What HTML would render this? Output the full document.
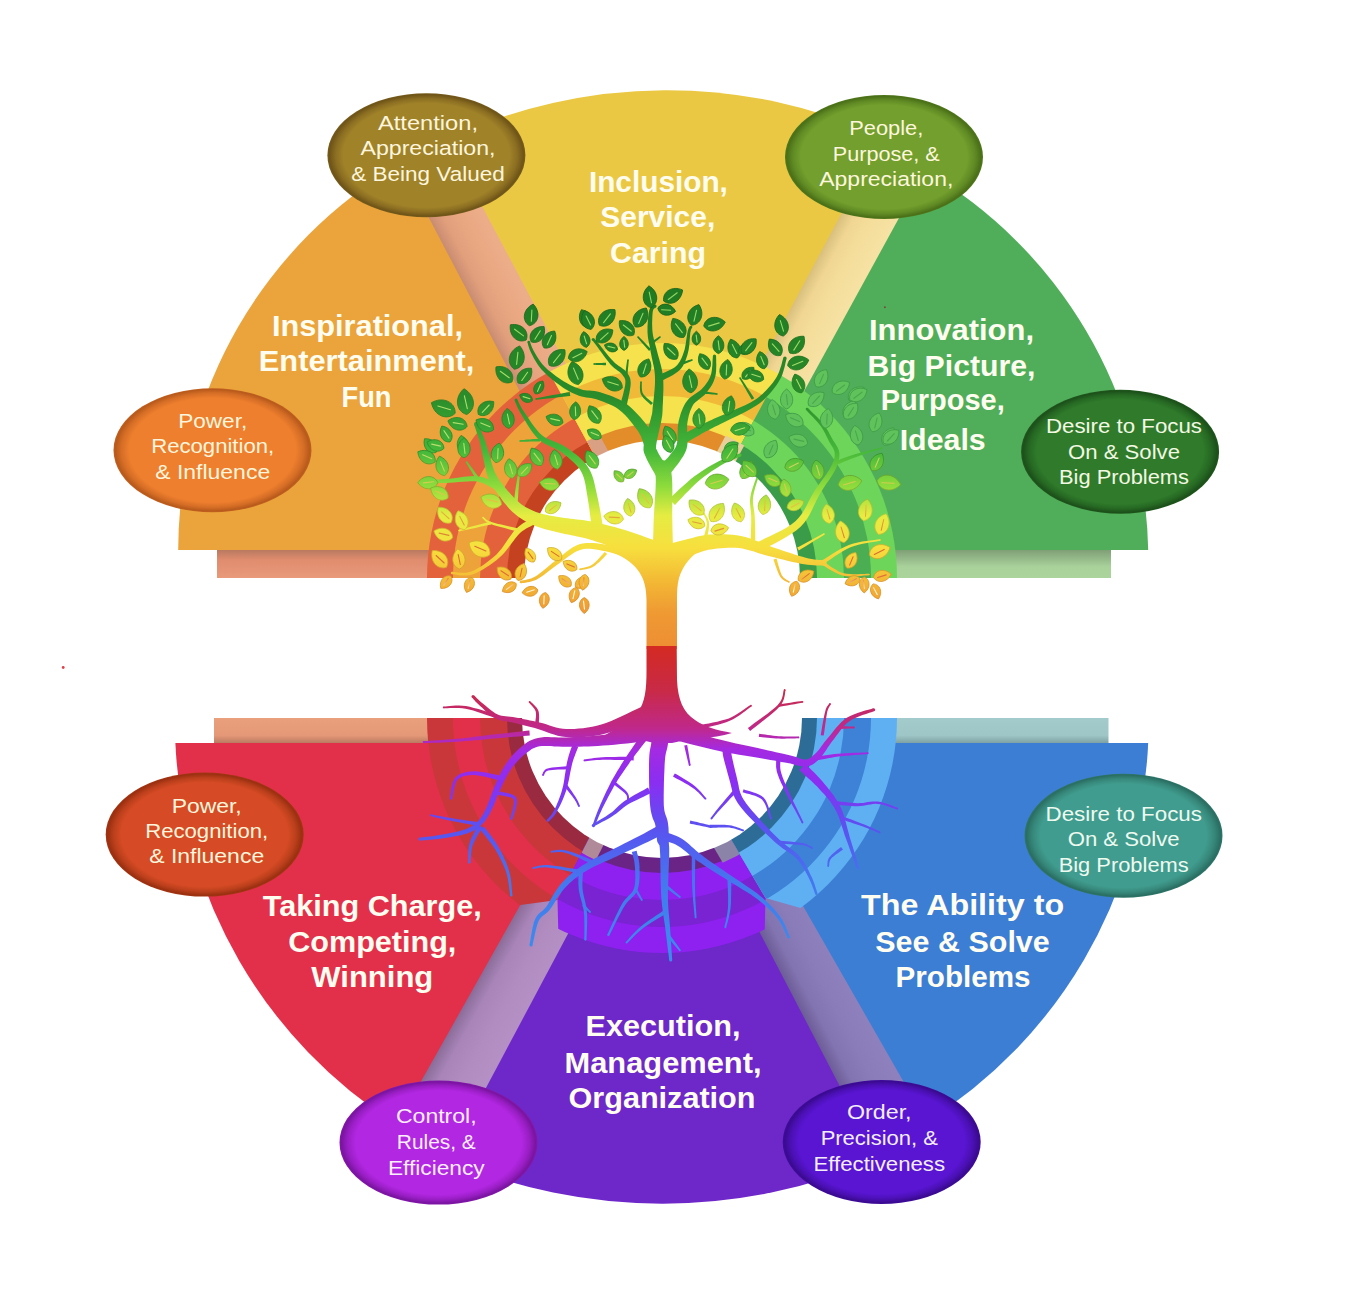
<!DOCTYPE html>
<html><head><meta charset="utf-8"><style>
html,body{margin:0;padding:0;background:#fff;width:1364px;height:1314px;overflow:hidden}
svg{display:block;font-family:"Liberation Sans",sans-serif}
</style></head><body>
<svg width="1364" height="1314" viewBox="0 0 1364 1314">
<defs>
<radialGradient id="eBrown" cx="50%" cy="50%" r="50%"><stop offset="0" stop-color="#a08229"/><stop offset="0.84" stop-color="#a08229"/><stop offset="0.92" stop-color="#8a6d21"/><stop offset="0.98" stop-color="#6e5418"/><stop offset="1" stop-color="#785d1b"/></radialGradient>
<radialGradient id="eGreen" cx="50%" cy="50%" r="50%"><stop offset="0" stop-color="#729f2d"/><stop offset="0.84" stop-color="#729f2d"/><stop offset="0.92" stop-color="#608a24"/><stop offset="0.98" stop-color="#4a7018"/><stop offset="1" stop-color="#52791c"/></radialGradient>
<radialGradient id="eOrange" cx="50%" cy="50%" r="50%"><stop offset="0" stop-color="#ee7f2e"/><stop offset="0.84" stop-color="#ee7f2e"/><stop offset="0.92" stop-color="#d66e26"/><stop offset="0.98" stop-color="#b85a1c"/><stop offset="1" stop-color="#c36120"/></radialGradient>
<radialGradient id="eDGreen" cx="50%" cy="50%" r="50%"><stop offset="0" stop-color="#2f7b2b"/><stop offset="0.84" stop-color="#2f7b2b"/><stop offset="0.92" stop-color="#266823"/><stop offset="0.98" stop-color="#1c501a"/><stop offset="1" stop-color="#20591d"/></radialGradient>
<radialGradient id="eRed" cx="50%" cy="50%" r="50%"><stop offset="0" stop-color="#d64b25"/><stop offset="0.84" stop-color="#d64b25"/><stop offset="0.92" stop-color="#bb3f1c"/><stop offset="0.98" stop-color="#9a3010"/><stop offset="1" stop-color="#a63514"/></radialGradient>
<radialGradient id="eTeal" cx="50%" cy="50%" r="50%"><stop offset="0" stop-color="#409c8e"/><stop offset="0.84" stop-color="#409c8e"/><stop offset="0.92" stop-color="#36877a"/><stop offset="0.98" stop-color="#2a6e62"/><stop offset="1" stop-color="#2e776b"/></radialGradient>
<radialGradient id="eMag" cx="50%" cy="50%" r="50%"><stop offset="0" stop-color="#b227e2"/><stop offset="0.84" stop-color="#b227e2"/><stop offset="0.92" stop-color="#991ec4"/><stop offset="0.98" stop-color="#7a14a0"/><stop offset="1" stop-color="#8518ad"/></radialGradient>
<radialGradient id="ePurp" cx="50%" cy="50%" r="50%"><stop offset="0" stop-color="#5915d2"/><stop offset="0.84" stop-color="#5915d2"/><stop offset="0.92" stop-color="#4b10b4"/><stop offset="0.98" stop-color="#3a0a90"/><stop offset="1" stop-color="#400c9d"/></radialGradient>
<linearGradient id="lgStrip" x1="0" y1="0" x2="0" y2="1"><stop offset="0" stop-color="#7f9f76"/><stop offset="0.6" stop-color="#a9d29b"/><stop offset="1" stop-color="#aad49c"/></linearGradient>
<linearGradient id="bgStrip" x1="0" y1="0" x2="0" y2="1"><stop offset="0" stop-color="#a3cbcb"/><stop offset="0.7" stop-color="#9fc6c6"/><stop offset="1" stop-color="#7ea2a4"/></linearGradient>
<linearGradient id="saStrip" x1="0" y1="0" x2="0" y2="1"><stop offset="0" stop-color="#b87a60"/><stop offset="0.35" stop-color="#e08c6e"/><stop offset="1" stop-color="#e89a7a"/></linearGradient>
<linearGradient id="sa2Strip" x1="0" y1="0" x2="0" y2="1"><stop offset="0" stop-color="#e9a07c"/><stop offset="0.7" stop-color="#e59877"/><stop offset="1" stop-color="#b97a62"/></linearGradient>
<clipPath id="topHalf"><rect x="0" y="0" width="1364" height="578"/></clipPath>
<clipPath id="botHalf"><rect x="0" y="718" width="1364" height="600"/></clipPath>
<clipPath id="wO"><polygon points="0.0,0.0 346.4,0.0 673.4,600.0 0.0,600.0" fill="#000" /></clipPath>
<clipPath id="wY"><polygon points="346.4,0.0 979.6,0.0 665.3,585.2" fill="#000" /></clipPath>
<clipPath id="wG"><polygon points="979.6,0.0 1364.0,0.0 1364.0,600.0 657.4,600.0" fill="#000" /></clipPath>
<clipPath id="wR"><polygon points="0.0,700.0 659.5,700.0 557.5,900.0 520.3,905.0 297.9,1300.0 0.0,1300.0" fill="#000" /></clipPath>
<clipPath id="wP"><polygon points="659.5,700.0 649.1,700.0 765.5,898.0 763.0,1000.0 560.0,1000.0 557.5,900.0" fill="#000" /></clipPath>
<clipPath id="wB"><polygon points="649.1,700.0 1364.0,700.0 1364.0,1300.0 1028.4,1300.0 804.9,909.3 765.5,898.0" fill="#000" /></clipPath>
<linearGradient id="gSalmon" gradientUnits="userSpaceOnUse" x1="472.0" y1="300.0" x2="518.8" y2="275.5"><stop offset="0" stop-color="#c98c72"/><stop offset="0.25" stop-color="#e29f7c"/><stop offset="0.6" stop-color="#eaa882"/><stop offset="1" stop-color="#ecae8a"/></linearGradient>
<linearGradient id="gPale" gradientUnits="userSpaceOnUse" x1="795.1" y1="300.0" x2="840.7" y2="324.4"><stop offset="0" stop-color="#d9bf7e"/><stop offset="0.25" stop-color="#f0d692"/><stop offset="0.6" stop-color="#f5de9c"/><stop offset="1" stop-color="#f6e2a4"/></linearGradient>
<linearGradient id="gMauve1" gradientUnits="userSpaceOnUse" x1="466.8" y1="1000.0" x2="517.6" y2="1028.6"><stop offset="0" stop-color="#8a6c98"/><stop offset="0.25" stop-color="#a884b8"/><stop offset="0.6" stop-color="#b08cc0"/><stop offset="1" stop-color="#b490c4"/></linearGradient>
<linearGradient id="gMauve2" gradientUnits="userSpaceOnUse" x1="794.9" y1="1000.0" x2="842.6" y2="975.2"><stop offset="0" stop-color="#6c5c98"/><stop offset="0.25" stop-color="#8274b0"/><stop offset="0.6" stop-color="#8a7cb8"/><stop offset="1" stop-color="#8e80bc"/></linearGradient>
</defs>
<rect x="0" y="0" width="1364" height="1314" fill="#fff"/>
<rect x="217" y="550" width="420" height="28" fill="url(#saStrip)"/>
<rect x="690" y="550" width="421" height="28" fill="url(#lgStrip)"/>
<polygon points="381.4,130.0 443.2,130.0 649.9,520.0 585.8,520.0" fill="url(#gSalmon)" />
<polygon points="884.6,130.0 948.8,130.0 735.0,520.0 675.9,520.0" fill="url(#gPale)" />
<path d="M178.2,550 A447.5,447.5 0 0 1 400.6,163.8 L603.0,550 Z" fill="#eaa43b"/>
<path d="M662.9,547.3 L446.7,139.4 A517.3,517.3 0 0 1 882.3,137.1 Z" fill="#ebc843"/>
<path d="M717.1,550 L925.0,170.5 A449.4,449.4 0 0 1 1148.2,550 Z" fill="#50ae5a"/>
<g clip-path="url(#topHalf)"><g clip-path="url(#wO)">
<circle cx="662" cy="578" r="235" fill="#e3623c"/>
<circle cx="662" cy="578" r="209" fill="#eea23a"/>
<circle cx="662" cy="578" r="182" fill="#e3623c"/>
<circle cx="662" cy="578" r="155" fill="#c4421f"/>
</g></g>
<g clip-path="url(#topHalf)"><g clip-path="url(#wY)">
<circle cx="662" cy="578" r="235" fill="#f6e24c"/>
<circle cx="662" cy="578" r="209" fill="#f0ba38"/>
<circle cx="662" cy="578" r="182" fill="#f6e24c"/>
<circle cx="662" cy="578" r="155" fill="#e28c2a"/>
</g></g>
<g clip-path="url(#topHalf)"><g clip-path="url(#wG)">
<circle cx="662" cy="578" r="235" fill="#6dd55a"/>
<circle cx="662" cy="578" r="209" fill="#4cae52"/>
<circle cx="662" cy="578" r="182" fill="#6dd55a"/>
<circle cx="662" cy="578" r="155" fill="#3a9c48"/>
</g></g>
<clipPath id="bd52"><polygon points="553.5,380.0 569.5,380.0 624.0,480.0 608.0,480.0" fill="#000" /></clipPath>
<g clip-path="url(#topHalf)"><g clip-path="url(#bd52)"><circle cx="662" cy="578" r="156" fill="#d9a084"/></g></g>
<clipPath id="bd54"><polygon points="755.5,380.0 779.5,380.0 720.4,490.0 696.4,490.0" fill="#000" /></clipPath>
<g clip-path="url(#topHalf)"><g clip-path="url(#bd54)"><circle cx="662" cy="578" r="156" fill="#e6cf98"/></g></g>
<g clip-path="url(#topHalf)"><circle cx="662" cy="578" r="138" fill="#fff"/></g>
<rect x="214" y="718" width="460" height="25" fill="url(#sa2Strip)"/>
<rect x="660" y="718" width="448.5" height="25" fill="url(#bgStrip)"/>
<polygon points="549.8,850.0 614.1,850.0 454.5,1150.0 380.9,1150.0" fill="url(#gMauve1)" />
<polygon points="715.2,850.0 772.5,850.0 944.1,1150.0 871.5,1150.0" fill="url(#gMauve2)" />
<path d="M175.4,743 L611.5,743 L396.7,1124.6 A477.1,477.1 0 0 1 175.4,743 Z" fill="#e2304a"/>
<path d="M665.2,751.1 L447.9,1159.5 A542.5,542.5 0 0 0 877.7,1159.0 Z" fill="#6e27c9"/>
<path d="M709.8,743 L1148.2,743 A472.4,472.4 0 0 1 926.5,1121.8 Z" fill="#3c7ed4"/>
<g clip-path="url(#botHalf)"><g clip-path="url(#wR)">
<circle cx="662" cy="718" r="235" fill="#c9373a"/>
<circle cx="662" cy="718" r="209" fill="#e2304a"/>
<circle cx="662" cy="718" r="182" fill="#c9373a"/>
<circle cx="662" cy="718" r="155" fill="#9a2a40"/>
</g></g>
<g clip-path="url(#botHalf)"><g clip-path="url(#wP)">
<circle cx="662" cy="718" r="235" fill="#8e21ef"/>
<circle cx="662" cy="718" r="209" fill="#7a23d2"/>
<circle cx="662" cy="718" r="182" fill="#8e21ef"/>
<circle cx="662" cy="718" r="155" fill="#6a2485"/>
</g></g>
<g clip-path="url(#botHalf)"><g clip-path="url(#wB)">
<circle cx="662" cy="718" r="235" fill="#5fb0f3"/>
<circle cx="662" cy="718" r="209" fill="#3d82d6"/>
<circle cx="662" cy="718" r="182" fill="#5fb0f3"/>
<circle cx="662" cy="718" r="155" fill="#2e6c98"/>
</g></g>
<clipPath id="bd82"><polygon points="598.3,820.0 616.3,820.0 590.8,870.0 572.8,870.0" fill="#000" /></clipPath>
<g clip-path="url(#botHalf)"><g clip-path="url(#bd82)"><circle cx="662" cy="718" r="157" fill="#b08a98"/></g></g>
<clipPath id="bd84"><polygon points="697.7,820.0 719.7,820.0 754.9,880.0 732.9,880.0" fill="#000" /></clipPath>
<g clip-path="url(#botHalf)"><g clip-path="url(#bd84)"><circle cx="662" cy="718" r="157" fill="#8c84a8"/></g></g>
<g clip-path="url(#botHalf)"><circle cx="662" cy="718" r="140" fill="#fff"/></g>
<defs>
<linearGradient id="treeG" gradientUnits="userSpaceOnUse" x1="0" y1="290" x2="0" y2="648">
<stop offset="0" stop-color="#1f7a22"/><stop offset="0.3" stop-color="#2a8c2a"/><stop offset="0.45" stop-color="#45b83a"/>
<stop offset="0.55" stop-color="#8fdc3c"/><stop offset="0.63" stop-color="#e6ec42"/><stop offset="0.72" stop-color="#f7df3e"/>
<stop offset="0.82" stop-color="#f3b634"/><stop offset="0.9" stop-color="#ef9a33"/><stop offset="1" stop-color="#ee8e34"/>
</linearGradient>
<linearGradient id="ribG" gradientUnits="userSpaceOnUse" x1="0" y1="290" x2="0" y2="648">
<stop offset="0" stop-color="#8fd460"/><stop offset="0.42" stop-color="#b8e070"/><stop offset="0.6" stop-color="#e8c040"/><stop offset="0.72" stop-color="#d86a30"/><stop offset="0.8" stop-color="#e07038"/><stop offset="0.84" stop-color="#fff4e0"/><stop offset="1" stop-color="#ffffff"/>
</linearGradient>
<linearGradient id="edgeG" gradientUnits="userSpaceOnUse" x1="0" y1="290" x2="0" y2="648">
<stop offset="0" stop-color="#145c16"/><stop offset="0.45" stop-color="#2a8a28"/><stop offset="0.63" stop-color="#c8c830"/><stop offset="0.82" stop-color="#d89028"/><stop offset="1" stop-color="#d07a28"/>
</linearGradient>
<linearGradient id="rootG" gradientUnits="userSpaceOnUse" x1="0" y1="646" x2="0" y2="950">
<stop offset="0" stop-color="#d42a22"/><stop offset="0.15" stop-color="#c82a48"/><stop offset="0.27" stop-color="#c0288a"/>
<stop offset="0.34" stop-color="#a42ae2"/><stop offset="0.45" stop-color="#8a2ef2"/><stop offset="0.6" stop-color="#5a52f0"/>
<stop offset="0.78" stop-color="#4478ee"/><stop offset="1" stop-color="#3a8cec"/>
</linearGradient>
</defs><path d="M646.5,649 L646.5,600 C646.5,578 638,563 614,553 L612,536 C636,541 650,545 655,548 L654,530 L672,530 L672,547 C682,544 692,541 700,540 L702,550 C692,554 683,565 679,578 C677,586 677,592 677,600 L677,649 Z" fill="url(#treeG)"/>
<path d="M673.4,560.0 L673.3,556.8 L673.2,552.7 L673.0,547.7 L672.8,542.2 L672.7,536.4 L672.5,530.6 L672.4,525.1 L672.3,520.1 L672.2,515.5 L672.2,510.8 L672.3,506.0 L672.3,501.4 L672.3,496.9 L672.4,492.6 L672.3,488.6 L672.3,485.0 L672.2,481.7 L672.0,478.7 L671.8,476.0 L671.5,473.7 L671.3,471.6 L671.1,469.9 L670.9,468.5 L670.8,467.4 L655.2,468.6 L655.3,469.9 L655.4,471.4 L655.5,473.1 L655.6,474.9 L655.7,477.1 L655.8,479.4 L655.8,482.1 L655.7,485.0 L655.6,488.3 L655.4,492.1 L655.1,496.3 L654.8,500.7 L654.5,505.4 L654.2,510.2 L654.0,515.0 L653.7,519.9 L653.5,525.0 L653.4,530.6 L653.2,536.4 L653.0,542.2 L652.9,547.7 L652.8,552.7 L652.7,556.9 L652.6,560.0Z" fill="url(#treeG)"/><circle cx="663.0" cy="468.0" r="7.8" fill="url(#treeG)"/>
<path d="M668.1,468.3 L667.2,466.9 L666.0,465.1 L664.5,462.9 L663.0,460.6 L661.4,458.2 L660.0,455.9 L658.8,453.9 L657.9,452.2 L657.2,450.8 L656.6,449.6 L656.2,449.0 L656.1,448.8 L656.1,448.8 L656.0,448.4 L656.0,447.4 L656.1,445.8 L656.4,443.6 L656.9,440.8 L657.6,437.5 L658.4,434.0 L659.2,430.5 L660.0,427.0 L660.7,423.9 L661.2,421.2 L661.6,419.2 L661.8,417.9 L662.0,416.8 L662.2,415.8 L662.3,414.6 L662.4,413.3 L662.5,411.7 L662.6,409.4 L662.7,406.3 L662.9,402.7 L663.1,398.6 L663.2,394.2 L663.4,389.7 L663.4,385.2 L663.3,380.8 L663.0,376.7 L662.5,372.9 L661.8,369.3 L661.0,365.7 L660.1,362.4 L659.2,359.1 L658.3,356.1 L657.5,353.1 L656.8,350.3 L656.1,347.6 L655.4,345.1 L654.8,342.8 L654.2,340.6 L653.7,338.4 L653.2,336.3 L652.8,334.1 L652.5,331.8 L652.3,329.3 L652.2,326.5 L652.1,323.6 L652.2,320.7 L652.3,317.9 L652.4,315.4 L652.6,313.1 L652.8,311.4 L653.1,310.2 L653.4,309.4 L653.7,308.9 L654.1,308.5 L654.5,308.3 L655.0,308.0 L655.6,307.6 L656.0,307.2 L654.0,304.8 L653.8,304.9 L653.4,305.1 L652.8,305.4 L652.0,305.8 L651.2,306.6 L650.4,307.6 L649.7,309.0 L649.2,310.6 L648.8,312.6 L648.5,315.0 L648.1,317.6 L647.9,320.5 L647.7,323.5 L647.5,326.5 L647.5,329.4 L647.5,332.2 L647.7,334.7 L647.9,337.2 L648.3,339.5 L648.7,341.8 L649.2,344.1 L649.7,346.5 L650.2,349.0 L650.6,351.7 L651.2,354.6 L651.8,357.7 L652.5,360.8 L653.2,364.0 L653.9,367.3 L654.4,370.6 L654.8,373.9 L655.0,377.3 L655.0,380.9 L654.9,385.0 L654.6,389.3 L654.2,393.7 L653.8,397.9 L653.3,402.0 L652.9,405.6 L652.6,408.6 L652.4,410.9 L652.2,412.5 L652.1,413.5 L652.0,414.1 L651.8,414.7 L651.6,415.6 L651.2,417.0 L650.8,418.8 L650.1,421.3 L649.3,424.2 L648.3,427.6 L647.2,431.1 L646.1,434.7 L645.2,438.1 L644.4,441.4 L643.9,444.2 L643.6,446.5 L643.5,448.4 L643.5,450.3 L643.9,452.2 L644.4,453.8 L644.9,455.1 L645.5,456.3 L646.1,457.8 L647.1,460.0 L648.4,462.4 L649.8,465.1 L651.3,467.7 L652.7,470.2 L654.1,472.5 L655.1,474.4 L655.9,475.7Z" fill="url(#treeG)"/><circle cx="655.0" cy="306.0" r="1.6" fill="url(#treeG)"/>
<path d="M667.9,476.3 L668.8,475.2 L670.0,473.7 L671.5,471.9 L673.2,469.9 L674.9,467.8 L676.7,465.6 L678.3,463.4 L679.7,461.4 L680.8,459.8 L681.8,458.2 L682.9,456.7 L683.9,454.9 L684.9,453.1 L685.8,451.0 L686.6,448.7 L687.2,446.1 L687.5,443.1 L687.6,440.0 L687.5,436.9 L687.4,433.8 L687.2,430.7 L687.1,427.8 L687.1,425.2 L687.4,422.7 L687.8,420.3 L688.3,417.9 L688.8,415.5 L689.5,413.2 L690.2,411.0 L691.1,408.9 L692.0,406.9 L693.0,405.1 L694.1,403.6 L695.4,402.2 L697.0,400.9 L698.8,399.5 L700.7,398.1 L702.6,396.6 L704.5,394.9 L706.2,393.0 L707.7,391.1 L709.0,389.3 L710.3,387.4 L711.6,385.4 L712.7,383.4 L713.7,381.2 L714.5,379.0 L715.3,376.6 L715.8,374.0 L716.1,371.1 L716.2,368.1 L716.3,365.1 L716.2,362.3 L716.2,359.7 L716.1,357.6 L716.1,356.1 L712.9,355.9 L712.8,357.5 L712.6,359.7 L712.5,362.2 L712.4,365.0 L712.1,367.9 L711.8,370.6 L711.3,373.2 L710.7,375.4 L710.0,377.3 L709.1,379.1 L708.1,380.9 L707.0,382.6 L705.8,384.2 L704.5,385.9 L703.1,387.5 L701.8,389.0 L700.4,390.3 L698.7,391.5 L696.9,392.8 L695.0,394.0 L692.9,395.4 L690.8,396.9 L688.8,398.8 L687.0,400.9 L685.5,403.1 L684.1,405.5 L682.9,407.9 L681.9,410.5 L680.9,413.1 L680.1,415.7 L679.3,418.4 L678.6,421.3 L678.1,424.3 L677.8,427.6 L677.7,430.8 L677.6,434.0 L677.6,437.0 L677.4,439.7 L677.2,442.0 L676.8,443.9 L676.3,445.5 L675.8,446.9 L675.1,448.1 L674.4,449.2 L673.6,450.3 L672.6,451.6 L671.5,453.0 L670.3,454.6 L669.0,456.2 L667.5,457.9 L665.7,459.8 L663.9,461.7 L662.2,463.5 L660.5,465.2 L659.2,466.6 L658.1,467.7Z" fill="url(#treeG)"/><circle cx="714.5" cy="356.0" r="1.6" fill="url(#treeG)"/>
<path d="M684.2,444.0 L685.6,443.2 L687.5,442.1 L689.7,440.7 L692.1,439.3 L694.7,437.8 L697.3,436.3 L699.7,434.9 L701.9,433.6 L703.9,432.6 L705.6,431.6 L707.2,430.8 L708.8,429.9 L710.5,429.0 L712.5,428.0 L714.8,426.8 L717.6,425.4 L721.0,423.7 L725.1,421.7 L729.6,419.6 L734.4,417.3 L739.1,415.0 L743.7,412.7 L747.9,410.6 L751.4,408.6 L754.3,406.8 L756.8,405.2 L759.0,403.7 L761.0,402.2 L762.7,400.7 L764.4,399.2 L766.0,397.6 L767.8,395.8 L769.6,393.8 L771.4,391.7 L773.2,389.6 L774.9,387.3 L776.6,385.0 L778.1,382.7 L779.5,380.3 L780.8,377.9 L782.0,375.4 L783.0,372.6 L783.8,369.7 L784.6,366.9 L785.2,364.3 L785.7,361.9 L786.2,359.9 L786.6,358.4 L783.4,357.6 L783.0,359.1 L782.4,361.0 L781.8,363.4 L781.1,366.0 L780.2,368.6 L779.3,371.3 L778.3,373.8 L777.2,376.1 L775.9,378.2 L774.5,380.3 L773.0,382.4 L771.3,384.5 L769.6,386.6 L767.8,388.6 L766.0,390.4 L764.2,392.2 L762.5,393.9 L760.9,395.3 L759.3,396.7 L757.7,397.9 L755.9,399.2 L753.8,400.5 L751.4,401.9 L748.6,403.4 L745.1,405.2 L741.0,407.1 L736.4,409.1 L731.6,411.2 L726.8,413.3 L722.2,415.2 L718.0,417.0 L714.4,418.6 L711.5,419.9 L709.1,421.0 L707.0,422.0 L705.2,422.8 L703.5,423.7 L701.9,424.5 L700.1,425.4 L698.1,426.4 L695.7,427.6 L693.2,428.9 L690.5,430.3 L687.9,431.7 L685.4,433.0 L683.1,434.3 L681.2,435.3 L679.8,436.0Z" fill="url(#treeG)"/><circle cx="785.0" cy="358.0" r="1.6" fill="url(#treeG)"/>
<path d="M754.2,398.2 L753.1,396.5 L751.5,394.0 L749.5,391.1 L747.4,387.9 L745.4,384.7 L743.4,381.8 L741.8,379.3 L740.7,377.6 L739.3,378.4 L740.4,380.2 L741.9,382.8 L743.6,385.8 L745.6,389.1 L747.5,392.4 L749.3,395.4 L750.7,398.0 L751.8,399.8Z" fill="url(#treeG)"/><circle cx="740.0" cy="378.0" r="0.8" fill="url(#treeG)"/>
<path d="M703.9,393.8 L704.9,393.9 L706.5,394.0 L708.4,394.1 L710.4,394.3 L712.4,394.4 L714.3,394.6 L715.8,394.7 L716.9,394.8 L717.1,393.2 L716.0,393.0 L714.5,392.8 L712.6,392.5 L710.6,392.2 L708.6,391.9 L706.8,391.6 L705.2,391.4 L704.1,391.2Z" fill="url(#treeG)"/><circle cx="717.0" cy="394.0" r="0.8" fill="url(#treeG)"/>
<path d="M661.5,380.9 L662.8,380.2 L664.8,379.2 L667.2,378.0 L669.8,376.7 L672.6,375.2 L675.2,373.5 L677.7,371.8 L679.8,369.9 L681.5,367.9 L682.9,365.9 L684.1,363.8 L685.1,361.6 L685.9,359.4 L686.7,357.1 L687.4,354.9 L688.0,352.6 L688.6,350.0 L689.0,347.2 L689.4,344.4 L689.6,341.5 L689.8,338.8 L690.0,336.2 L690.2,334.0 L690.4,332.3 L690.7,331.0 L690.9,330.0 L691.2,329.3 L691.4,328.9 L691.5,328.6 L691.7,328.3 L692.0,328.0 L692.2,327.6 L689.8,326.4 L689.7,326.6 L689.6,326.8 L689.3,327.1 L689.0,327.6 L688.7,328.3 L688.3,329.1 L687.9,330.3 L687.6,331.7 L687.2,333.6 L686.9,335.9 L686.5,338.4 L686.1,341.1 L685.7,343.9 L685.2,346.6 L684.7,349.2 L684.0,351.4 L683.3,353.6 L682.5,355.7 L681.7,357.7 L680.8,359.6 L679.8,361.5 L678.7,363.1 L677.5,364.7 L676.2,366.1 L674.5,367.4 L672.3,368.8 L669.8,370.1 L667.2,371.3 L664.6,372.5 L662.2,373.5 L660.1,374.4 L658.5,375.1Z" fill="url(#treeG)"/><circle cx="691.0" cy="327.0" r="1.3" fill="url(#treeG)"/>
<path d="M683.9,364.2 L684.6,363.9 L685.6,363.5 L686.8,363.0 L688.1,362.5 L689.4,362.0 L690.6,361.5 L691.6,361.0 L692.3,360.8 L691.7,359.2 L691.0,359.5 L690.0,359.8 L688.7,360.1 L687.4,360.5 L686.1,360.9 L684.8,361.3 L683.8,361.6 L683.1,361.8Z" fill="url(#treeG)"/><circle cx="692.0" cy="360.0" r="0.8" fill="url(#treeG)"/>
<path d="M651.0,349.1 L649.9,348.1 L648.4,346.5 L646.7,344.7 L644.8,342.8 L642.9,340.8 L641.1,339.0 L639.6,337.5 L638.6,336.5 L637.4,337.5 L638.4,338.7 L639.8,340.3 L641.4,342.2 L643.2,344.2 L645.0,346.3 L646.7,348.2 L648.1,349.8 L649.0,350.9Z" fill="url(#treeG)"/><circle cx="638.0" cy="337.0" r="0.8" fill="url(#treeG)"/>
<path d="M652.8,344.0 L653.4,343.5 L654.3,342.7 L655.4,341.8 L656.6,340.8 L657.8,339.9 L658.9,338.9 L659.8,338.2 L660.5,337.6 L659.5,336.4 L658.8,336.8 L657.8,337.5 L656.7,338.3 L655.4,339.2 L654.1,340.0 L652.9,340.8 L651.9,341.5 L651.2,342.0Z" fill="url(#treeG)"/><circle cx="660.0" cy="337.0" r="0.8" fill="url(#treeG)"/>
<path d="M653.0,402.9 L652.1,402.2 L650.9,401.2 L649.4,400.1 L647.9,398.8 L646.4,397.5 L645.0,396.1 L643.8,394.7 L643.0,393.5 L642.4,392.2 L642.1,390.7 L641.9,389.1 L641.8,387.4 L641.8,385.7 L641.8,384.2 L641.8,383.0 L641.8,382.0 L640.2,382.0 L640.2,382.9 L640.1,384.2 L640.0,385.7 L639.9,387.4 L640.0,389.2 L640.1,391.0 L640.4,392.8 L641.0,394.5 L642.0,396.1 L643.2,397.7 L644.7,399.2 L646.2,400.7 L647.7,402.1 L649.1,403.3 L650.2,404.3 L651.0,405.1Z" fill="url(#treeG)"/><circle cx="641.0" cy="382.0" r="0.8" fill="url(#treeG)"/>
<path d="M655.5,442.9 L655.0,441.9 L654.5,440.5 L653.9,438.6 L653.1,436.4 L652.0,434.0 L650.8,431.4 L649.2,428.6 L647.4,426.0 L645.4,423.3 L643.1,420.5 L640.6,417.5 L637.8,414.4 L634.9,411.4 L631.9,408.5 L628.8,405.7 L625.7,403.3 L622.6,401.3 L619.3,399.5 L615.9,397.9 L612.6,396.5 L609.3,395.3 L606.1,394.2 L603.1,393.2 L600.2,392.3 L597.3,391.6 L594.5,391.1 L591.9,390.8 L589.5,390.6 L587.2,390.4 L585.1,390.2 L583.1,389.9 L581.0,389.3 L578.9,388.6 L576.7,387.8 L574.5,387.0 L572.4,386.0 L570.2,385.0 L568.0,383.8 L565.8,382.6 L563.5,381.2 L561.2,379.7 L558.7,378.0 L556.1,376.2 L553.6,374.3 L551.1,372.3 L548.7,370.4 L546.5,368.4 L544.5,366.6 L542.8,364.7 L541.2,362.7 L539.7,360.7 L538.4,358.7 L537.1,356.7 L535.9,354.8 L534.9,352.9 L533.9,351.3 L533.1,349.7 L532.4,348.3 L531.8,346.9 L531.3,345.6 L530.9,344.4 L530.5,343.3 L530.2,342.3 L529.9,341.6 L527.5,342.4 L527.7,343.1 L527.9,344.0 L528.2,345.2 L528.6,346.4 L529.1,347.9 L529.6,349.4 L530.3,351.1 L531.1,352.7 L532.0,354.5 L533.0,356.4 L534.0,358.5 L535.2,360.6 L536.6,362.8 L538.0,365.1 L539.7,367.3 L541.5,369.4 L543.5,371.6 L545.7,373.7 L548.0,375.9 L550.5,378.1 L553.0,380.2 L555.6,382.2 L558.1,384.1 L560.5,385.8 L562.8,387.4 L565.1,388.9 L567.4,390.2 L569.6,391.5 L571.9,392.7 L574.2,393.7 L576.6,394.7 L579.0,395.7 L581.5,396.4 L584.0,397.0 L586.4,397.4 L588.7,397.7 L591.0,398.0 L593.2,398.4 L595.5,398.9 L597.8,399.7 L600.5,400.7 L603.4,401.7 L606.3,402.9 L609.3,404.2 L612.2,405.6 L615.1,407.1 L617.8,408.8 L620.3,410.7 L622.7,412.8 L625.3,415.3 L627.8,418.0 L630.3,421.0 L632.7,424.0 L634.9,426.9 L636.9,429.6 L638.6,432.0 L639.8,434.2 L640.9,436.2 L641.7,438.3 L642.4,440.3 L643.0,442.2 L643.6,444.0 L644.1,445.7 L644.5,447.1Z" fill="url(#treeG)"/><circle cx="528.7" cy="342.0" r="1.3" fill="url(#treeG)"/>
<path d="M626.2,407.7 L626.6,405.9 L627.2,403.2 L627.9,400.1 L628.6,396.6 L629.4,393.0 L630.0,389.5 L630.5,386.3 L630.7,383.6 L630.6,381.4 L630.4,379.5 L630.0,377.9 L629.4,376.4 L628.6,375.0 L627.8,373.8 L626.9,372.7 L625.8,371.4 L624.6,370.1 L623.1,368.9 L621.6,367.8 L620.1,366.8 L618.5,365.8 L616.9,364.6 L615.2,363.2 L613.5,361.6 L611.6,359.5 L609.3,356.9 L606.9,354.0 L604.5,351.0 L602.1,348.0 L600.0,345.3 L598.1,342.9 L596.6,341.1 L595.5,339.9 L594.8,339.1 L594.3,338.6 L593.8,338.3 L592.3,338.4 L591.9,339.1 L593.3,338.3 L593.7,338.4 L592.3,340.6 L592.9,340.9 L594.4,339.9 L594.0,340.5 L592.6,340.6 L592.5,340.6 L592.8,340.9 L593.5,341.7 L594.4,342.9 L595.8,344.7 L597.5,347.1 L599.6,350.0 L601.8,353.1 L604.1,356.2 L606.4,359.3 L608.6,362.0 L610.5,364.4 L612.3,366.3 L614.2,367.9 L615.9,369.3 L617.5,370.5 L619.0,371.6 L620.2,372.5 L621.3,373.5 L622.2,374.6 L623.0,375.7 L623.8,376.7 L624.3,377.6 L624.8,378.5 L625.1,379.3 L625.3,380.4 L625.4,381.7 L625.3,383.4 L625.1,385.6 L624.5,388.5 L623.7,391.8 L622.9,395.2 L621.9,398.6 L621.1,401.7 L620.3,404.3 L619.8,406.3Z" fill="url(#treeG)"/><circle cx="593.0" cy="339.5" r="1.3" fill="url(#treeG)"/>
<path d="M627.3,377.2 L627.4,375.7 L627.6,373.7 L627.8,371.3 L628.0,368.6 L628.3,366.0 L628.5,363.6 L628.7,361.5 L628.8,360.1 L627.2,359.9 L627.0,361.3 L626.7,363.3 L626.3,365.8 L626.0,368.4 L625.6,371.0 L625.2,373.4 L624.9,375.4 L624.7,376.8Z" fill="url(#treeG)"/><circle cx="628.0" cy="360.0" r="0.8" fill="url(#treeG)"/>
<path d="M606.0,362.7 L605.0,362.7 L603.6,362.8 L601.9,362.9 L600.0,362.9 L598.1,363.0 L596.4,363.1 L595.0,363.2 L594.0,363.2 L594.0,364.8 L595.0,364.8 L596.4,364.9 L598.1,365.0 L600.0,365.1 L601.9,365.1 L603.6,365.2 L605.0,365.3 L606.0,365.3Z" fill="url(#treeG)"/><circle cx="594.0" cy="364.0" r="0.8" fill="url(#treeG)"/>
<path d="M569.7,392.1 L566.9,392.6 L562.8,393.3 L558.0,394.2 L552.8,395.1 L547.6,396.1 L542.8,397.0 L538.7,397.7 L535.9,398.2 L536.1,399.8 L539.0,399.5 L543.1,399.0 L547.9,398.5 L553.2,397.9 L558.5,397.3 L563.3,396.7 L567.4,396.3 L570.3,395.9Z" fill="url(#treeG)"/><circle cx="536.0" cy="399.0" r="0.8" fill="url(#treeG)"/>
<path d="M659.4,542.2 L657.0,541.3 L653.8,540.1 L650.0,538.8 L645.8,537.2 L641.3,535.6 L636.8,534.0 L632.5,532.5 L628.6,531.2 L625.0,530.1 L621.4,529.0 L617.9,528.1 L614.6,527.1 L611.3,526.3 L608.3,525.5 L605.3,524.7 L602.6,524.0 L600.1,523.4 L597.9,522.9 L595.9,522.4 L594.0,522.0 L592.1,521.6 L590.1,521.3 L587.9,520.9 L585.5,520.5 L582.7,520.1 L579.7,519.7 L576.7,519.4 L573.6,519.0 L570.5,518.7 L567.5,518.3 L564.5,517.9 L561.5,517.5 L558.5,517.0 L555.4,516.5 L552.3,515.9 L549.3,515.4 L546.3,514.8 L543.5,514.2 L540.8,513.5 L538.3,512.7 L536.0,511.9 L533.7,511.0 L531.5,510.1 L529.4,509.1 L527.4,508.0 L525.4,506.9 L523.5,505.7 L521.6,504.4 L519.8,503.0 L518.1,501.6 L516.4,500.0 L514.7,498.4 L513.0,496.6 L511.3,494.8 L509.6,492.8 L507.9,490.9 L506.2,488.9 L504.5,486.9 L502.9,484.8 L501.3,482.8 L499.7,480.7 L498.3,478.6 L497.0,476.4 L495.8,474.3 L494.7,472.0 L493.8,469.6 L492.9,467.1 L492.1,464.4 L491.3,461.7 L490.6,459.1 L489.9,456.5 L489.2,454.2 L488.5,452.0 L487.9,450.1 L487.4,448.3 L486.9,446.5 L486.3,444.7 L485.8,442.9 L485.2,441.1 L484.5,439.2 L483.7,437.1 L482.8,434.9 L481.8,432.5 L480.9,430.3 L479.9,428.1 L479.1,426.1 L478.3,424.5 L477.8,423.3 L474.2,424.7 L474.6,426.0 L475.2,427.7 L475.9,429.7 L476.6,431.9 L477.4,434.2 L478.2,436.5 L478.9,438.8 L479.5,440.8 L480.0,442.7 L480.4,444.4 L480.8,446.2 L481.1,447.9 L481.5,449.7 L481.9,451.6 L482.3,453.7 L482.8,455.8 L483.3,458.2 L483.8,460.7 L484.4,463.4 L484.9,466.2 L485.6,469.1 L486.3,472.0 L487.2,474.9 L488.2,477.7 L489.4,480.4 L490.8,483.0 L492.2,485.5 L493.7,488.0 L495.3,490.4 L496.9,492.7 L498.5,494.9 L500.1,497.1 L501.6,499.3 L503.2,501.4 L504.9,503.5 L506.6,505.6 L508.4,507.7 L510.3,509.8 L512.3,511.7 L514.4,513.6 L516.5,515.3 L518.7,517.0 L521.0,518.6 L523.3,520.0 L525.8,521.4 L528.3,522.8 L530.9,524.0 L533.7,525.3 L536.6,526.4 L539.7,527.5 L542.8,528.5 L546.0,529.4 L549.2,530.2 L552.4,531.0 L555.4,531.8 L558.5,532.5 L561.6,533.3 L564.8,534.0 L568.0,534.6 L571.2,535.2 L574.2,535.8 L577.0,536.4 L579.7,536.9 L582.1,537.5 L584.4,538.0 L586.3,538.5 L588.0,539.0 L589.7,539.5 L591.3,540.0 L593.1,540.5 L595.1,541.2 L597.4,542.0 L600.0,542.8 L602.8,543.8 L605.7,544.8 L608.7,545.9 L611.8,547.0 L615.0,548.2 L618.2,549.5 L621.4,550.8 L624.9,552.3 L628.9,554.0 L633.1,555.9 L637.4,557.8 L641.4,559.7 L645.1,561.4 L648.3,562.8 L650.6,563.8Z" fill="url(#treeG)"/><circle cx="476.0" cy="424.0" r="2.0" fill="url(#treeG)"/>
<path d="M603.8,532.2 L603.4,529.6 L602.8,526.2 L602.2,522.2 L601.4,517.6 L600.6,512.8 L599.7,508.0 L598.8,503.3 L597.9,499.1 L597.0,495.1 L596.2,491.2 L595.3,487.2 L594.4,483.2 L593.4,479.2 L592.1,475.3 L590.5,471.5 L588.6,467.9 L586.3,464.6 L583.7,461.5 L580.9,458.7 L578.0,456.1 L575.0,453.7 L571.9,451.5 L568.9,449.3 L565.9,447.2 L562.7,445.3 L559.5,443.7 L556.2,442.3 L553.0,441.1 L549.9,439.8 L547.0,438.5 L544.3,436.9 L541.7,435.1 L539.2,432.7 L536.7,429.8 L534.1,426.6 L531.7,423.2 L529.4,419.8 L527.2,416.6 L525.2,413.6 L523.5,411.1 L522.1,408.9 L521.0,407.0 L520.1,405.3 L519.3,403.8 L518.7,402.5 L518.2,401.3 L517.7,400.3 L517.3,399.4 L514.7,400.6 L515.0,401.4 L515.4,402.4 L515.9,403.6 L516.5,405.1 L517.2,406.7 L518.1,408.6 L519.2,410.7 L520.5,412.9 L522.0,415.6 L523.8,418.7 L525.9,422.1 L528.1,425.7 L530.4,429.3 L532.9,432.8 L535.5,436.1 L538.3,438.9 L541.2,441.4 L544.3,443.4 L547.5,445.1 L550.6,446.5 L553.7,448.0 L556.7,449.4 L559.5,450.9 L562.1,452.8 L564.8,454.9 L567.6,457.1 L570.4,459.4 L573.0,461.7 L575.5,464.2 L577.8,466.7 L579.8,469.3 L581.4,472.1 L582.8,475.0 L583.9,478.1 L584.8,481.5 L585.6,485.2 L586.2,489.0 L586.8,492.9 L587.5,496.9 L588.1,500.9 L588.8,505.1 L589.4,509.6 L590.0,514.4 L590.6,519.1 L591.1,523.7 L591.5,527.8 L591.9,531.2 L592.2,533.8Z" fill="url(#treeG)"/><circle cx="516.0" cy="400.0" r="1.4" fill="url(#treeG)"/>
<path d="M539.9,438.6 L538.3,438.7 L535.9,438.9 L533.0,439.1 L529.9,439.4 L526.9,439.6 L524.0,439.9 L521.6,440.1 L520.0,440.2 L520.0,441.8 L521.7,441.8 L524.1,441.7 L527.0,441.7 L530.1,441.6 L533.1,441.6 L536.0,441.5 L538.4,441.5 L540.1,441.4Z" fill="url(#treeG)"/><circle cx="520.0" cy="441.0" r="0.8" fill="url(#treeG)"/>
<path d="M501.5,486.1 L499.9,485.3 L497.9,484.2 L495.3,482.8 L492.4,481.2 L489.2,479.7 L485.8,478.2 L482.1,477.1 L478.4,476.4 L474.5,476.1 L470.5,476.2 L466.3,476.6 L462.0,477.1 L457.7,477.7 L453.6,478.3 L449.6,478.8 L445.9,479.1 L442.3,479.3 L438.5,479.4 L434.7,479.5 L431.0,479.6 L427.6,479.6 L424.5,479.6 L422.0,479.7 L420.0,479.7 L420.0,482.3 L422.0,482.4 L424.5,482.5 L427.6,482.6 L431.0,482.7 L434.7,482.8 L438.5,482.9 L442.3,482.9 L446.1,482.9 L449.9,482.8 L454.0,482.4 L458.3,482.1 L462.5,481.7 L466.7,481.4 L470.6,481.2 L474.3,481.3 L477.6,481.6 L480.6,482.4 L483.7,483.5 L486.7,485.0 L489.6,486.5 L492.3,488.1 L494.7,489.6 L496.8,490.9 L498.5,491.9Z" fill="url(#treeG)"/><circle cx="420.0" cy="481.0" r="1.3" fill="url(#treeG)"/>
<path d="M479.3,478.1 L478.3,476.7 L476.9,474.7 L475.2,472.4 L473.3,469.8 L471.4,467.3 L469.7,464.9 L468.3,462.9 L467.3,461.6 L465.9,462.4 L466.8,463.9 L468.1,466.0 L469.6,468.5 L471.3,471.2 L472.9,473.9 L474.5,476.4 L475.8,478.4 L476.7,479.9Z" fill="url(#treeG)"/><circle cx="466.6" cy="462.0" r="0.8" fill="url(#treeG)"/>
<path d="M517.6,502.2 L517.8,500.4 L518.0,497.8 L518.2,494.8 L518.4,491.5 L518.7,488.1 L519.0,484.7 L519.2,481.7 L519.5,479.2 L519.8,477.0 L520.1,474.9 L520.4,473.0 L520.8,471.3 L521.1,469.7 L521.4,468.3 L521.6,467.1 L521.8,466.2 L520.2,465.8 L520.0,466.7 L519.7,467.9 L519.3,469.3 L518.9,470.8 L518.4,472.6 L518.0,474.5 L517.5,476.6 L517.1,478.8 L516.7,481.4 L516.2,484.4 L515.7,487.7 L515.2,491.1 L514.8,494.4 L514.4,497.4 L514.0,500.0 L513.8,501.8Z" fill="url(#treeG)"/><circle cx="521.0" cy="466.0" r="0.8" fill="url(#treeG)"/>
<path d="M532.4,518.2 L531.3,518.8 L529.8,519.6 L527.9,520.5 L525.8,521.7 L523.4,523.1 L521.0,524.8 L518.5,526.7 L516.0,529.0 L513.6,531.6 L511.3,534.7 L508.9,538.1 L506.5,541.6 L504.1,545.1 L501.7,548.5 L499.1,551.6 L496.5,554.4 L493.6,557.0 L490.5,559.6 L487.3,562.1 L484.0,564.5 L480.6,566.7 L477.4,568.6 L474.3,570.2 L471.5,571.5 L468.8,572.3 L466.0,572.7 L463.2,572.8 L460.5,572.7 L457.9,572.5 L455.6,572.2 L453.6,571.9 L452.1,571.8 L451.9,574.2 L453.4,574.3 L455.3,574.6 L457.6,575.0 L460.3,575.4 L463.1,575.6 L466.2,575.6 L469.4,575.3 L472.5,574.5 L475.7,573.2 L479.0,571.6 L482.5,569.8 L486.0,567.6 L489.6,565.3 L493.0,562.8 L496.4,560.3 L499.5,557.6 L502.5,554.7 L505.4,551.5 L508.1,548.0 L510.7,544.5 L513.2,541.2 L515.6,538.0 L517.9,535.3 L520.0,533.0 L522.1,531.2 L524.4,529.7 L526.6,528.3 L528.7,527.2 L530.8,526.2 L532.6,525.3 L534.3,524.5 L535.6,523.8Z" fill="url(#treeG)"/><circle cx="452.0" cy="573.0" r="1.2" fill="url(#treeG)"/>
<path d="M518.4,528.4 L516.2,527.9 L513.1,527.2 L509.4,526.4 L505.3,525.5 L501.2,524.6 L497.3,523.7 L494.0,522.8 L491.3,522.0 L489.4,521.3 L487.9,520.6 L486.8,519.9 L485.9,519.2 L485.2,518.6 L484.6,518.0 L484.0,517.4 L483.5,517.0 L482.5,518.2 L482.9,518.6 L483.4,519.1 L484.0,519.8 L484.7,520.5 L485.7,521.4 L487.0,522.2 L488.6,523.1 L490.7,524.0 L493.3,524.9 L496.7,525.9 L500.6,527.0 L504.7,528.1 L508.7,529.2 L512.4,530.2 L515.4,531.0 L517.6,531.6Z" fill="url(#treeG)"/><circle cx="483.0" cy="517.6" r="0.8" fill="url(#treeG)"/>
<path d="M490.7,521.6 L488.0,522.3 L484.2,523.3 L479.7,524.4 L474.7,525.7 L469.8,527.0 L465.3,528.2 L461.5,529.1 L458.8,529.8 L459.2,531.4 L461.9,530.8 L465.7,530.0 L470.3,529.0 L475.3,527.9 L480.2,526.8 L484.8,525.8 L488.6,525.0 L491.3,524.4Z" fill="url(#treeG)"/><circle cx="459.0" cy="530.6" r="0.8" fill="url(#treeG)"/>
<path d="M633.1,551.3 L631.1,550.7 L628.4,550.0 L625.2,549.1 L621.7,548.1 L617.8,547.1 L614.0,546.1 L610.1,545.3 L606.6,544.7 L603.3,544.3 L599.9,543.8 L596.6,543.3 L593.1,543.0 L589.7,542.9 L586.2,543.0 L582.7,543.5 L579.2,544.3 L575.8,545.7 L572.4,547.6 L569.2,549.7 L566.1,552.0 L563.1,554.4 L560.2,556.9 L557.4,559.2 L554.7,561.3 L552.0,563.3 L549.4,565.5 L546.8,567.7 L544.3,569.8 L541.8,571.8 L539.5,573.6 L537.3,575.2 L535.2,576.6 L533.2,577.6 L531.1,578.4 L529.0,579.0 L527.0,579.5 L525.1,579.9 L523.4,580.2 L521.9,580.5 L520.7,580.7 L521.3,583.3 L522.4,583.1 L523.8,582.9 L525.5,582.7 L527.5,582.3 L529.7,581.9 L532.0,581.3 L534.4,580.5 L536.8,579.4 L539.2,578.1 L541.6,576.5 L544.1,574.7 L546.6,572.7 L549.2,570.7 L551.9,568.7 L554.5,566.7 L557.3,564.7 L560.1,562.7 L563.1,560.5 L566.1,558.2 L569.1,556.0 L572.1,553.9 L575.1,552.1 L578.0,550.7 L580.8,549.7 L583.6,549.1 L586.5,548.8 L589.5,548.8 L592.6,549.1 L595.8,549.5 L599.0,550.1 L602.2,550.7 L605.4,551.3 L608.7,552.0 L612.3,552.9 L615.9,553.9 L619.6,555.1 L623.1,556.2 L626.2,557.2 L628.9,558.1 L630.9,558.7Z" fill="url(#treeG)"/><circle cx="521.0" cy="582.0" r="1.3" fill="url(#treeG)"/>
<path d="M604.8,551.9 L603.8,552.9 L602.5,554.4 L601.0,556.1 L599.3,558.0 L597.5,559.9 L595.7,561.7 L594.0,563.3 L592.4,564.5 L590.8,565.4 L589.1,566.2 L587.3,566.8 L585.5,567.3 L583.7,567.7 L582.2,568.1 L580.8,568.3 L579.8,568.6 L580.2,570.2 L581.2,570.0 L582.5,569.7 L584.1,569.5 L585.9,569.2 L587.8,568.7 L589.8,568.2 L591.8,567.4 L593.6,566.5 L595.5,565.2 L597.4,563.6 L599.4,561.9 L601.3,560.0 L603.2,558.2 L604.8,556.5 L606.1,555.1 L607.2,554.1Z" fill="url(#treeG)"/><circle cx="580.0" cy="569.4" r="0.8" fill="url(#treeG)"/>
<path d="M672.7,561.7 L674.2,561.2 L676.2,560.4 L678.6,559.6 L681.3,558.7 L684.1,557.7 L686.9,556.7 L689.7,555.8 L692.3,554.9 L694.8,554.1 L697.2,553.2 L699.4,552.4 L701.6,551.7 L703.7,551.0 L705.8,550.4 L708.2,549.8 L710.8,549.4 L713.9,548.9 L717.2,548.5 L720.8,548.2 L724.4,547.9 L728.1,547.7 L731.8,547.7 L735.4,547.8 L739.0,548.1 L742.5,548.6 L746.2,549.4 L750.0,550.4 L754.0,551.6 L758.0,552.9 L762.2,554.2 L766.4,555.4 L770.6,556.6 L774.9,557.6 L779.3,558.7 L783.8,559.8 L788.2,560.9 L792.6,561.9 L796.8,562.8 L800.7,563.7 L804.3,564.3 L807.6,564.8 L810.8,565.1 L813.7,565.3 L816.4,565.5 L818.7,565.5 L820.8,565.5 L822.5,565.5 L823.8,565.6 L824.2,560.4 L822.8,560.2 L821.1,560.1 L819.0,559.9 L816.8,559.7 L814.3,559.4 L811.6,558.9 L808.7,558.4 L805.7,557.7 L802.4,556.8 L798.6,555.7 L794.6,554.4 L790.4,553.1 L786.1,551.7 L781.7,550.2 L777.5,548.8 L773.4,547.4 L769.5,546.0 L765.6,544.5 L761.6,542.9 L757.6,541.3 L753.6,539.7 L749.5,538.2 L745.3,536.9 L741.0,535.9 L736.7,535.2 L732.5,534.7 L728.3,534.4 L724.1,534.3 L720.1,534.2 L716.3,534.3 L712.6,534.5 L709.2,534.6 L705.9,534.9 L702.8,535.4 L699.9,536.0 L697.2,536.6 L694.7,537.3 L692.3,537.9 L690.1,538.5 L687.7,539.1 L685.1,539.7 L682.1,540.4 L679.1,541.2 L676.2,542.0 L673.4,542.7 L671.0,543.3 L668.9,543.9 L667.3,544.3Z" fill="url(#treeG)"/><circle cx="824.0" cy="563.0" r="2.6" fill="url(#treeG)"/>
<path d="M762.1,550.0 L765.1,548.4 L769.2,546.2 L774.2,543.7 L779.7,540.7 L785.4,537.5 L791.0,534.1 L796.2,530.5 L800.6,526.7 L804.2,522.7 L807.3,518.4 L809.9,514.0 L812.2,509.5 L814.3,505.1 L816.3,500.8 L818.2,496.9 L820.2,493.3 L822.3,490.0 L824.4,486.7 L826.5,483.6 L828.6,480.7 L830.5,477.8 L832.3,475.0 L833.9,472.3 L835.3,469.7 L836.4,467.2 L837.3,464.9 L838.1,462.8 L838.7,460.7 L839.1,458.7 L839.3,456.7 L839.4,454.8 L839.3,452.8 L838.9,450.7 L838.2,448.8 L837.4,447.0 L836.4,445.4 L835.4,443.8 L834.4,442.2 L833.3,440.7 L832.4,439.0 L831.4,437.3 L830.5,435.5 L829.5,433.7 L828.5,431.8 L827.4,429.9 L826.2,427.9 L824.8,426.0 L823.3,424.0 L821.6,421.9 L819.5,419.6 L817.3,417.3 L815.0,415.0 L812.8,412.9 L810.8,410.9 L809.2,409.3 L807.9,408.1 L806.1,409.9 L807.3,411.2 L808.9,412.9 L810.8,414.9 L812.9,417.1 L815.1,419.4 L817.2,421.8 L819.1,424.0 L820.7,426.0 L822.0,427.9 L823.1,429.8 L824.2,431.7 L825.2,433.6 L826.1,435.4 L827.0,437.3 L827.9,439.1 L828.8,441.0 L829.8,442.8 L830.8,444.4 L831.8,446.0 L832.7,447.6 L833.5,449.0 L834.1,450.4 L834.5,451.8 L834.7,453.2 L834.8,454.8 L834.7,456.3 L834.4,457.9 L834.0,459.5 L833.5,461.2 L832.7,463.1 L831.8,465.1 L830.7,467.3 L829.4,469.6 L827.8,472.1 L826.0,474.7 L824.0,477.4 L821.9,480.3 L819.6,483.4 L817.3,486.7 L815.0,490.1 L812.7,493.9 L810.5,497.9 L808.4,502.1 L806.2,506.4 L803.9,510.5 L801.3,514.4 L798.5,518.0 L795.4,521.3 L791.6,524.3 L786.8,527.4 L781.4,530.4 L775.8,533.3 L770.3,536.0 L765.3,538.3 L761.0,540.4 L757.9,542.0Z" fill="url(#treeG)"/><circle cx="807.0" cy="409.0" r="1.3" fill="url(#treeG)"/>
<path d="M836.7,464.8 L838.2,464.2 L840.1,463.4 L842.4,462.4 L845.0,461.3 L847.8,460.2 L850.7,459.0 L853.6,457.9 L856.4,456.9 L859.5,455.8 L863.0,454.7 L866.8,453.5 L870.5,452.3 L874.2,451.2 L877.4,450.2 L880.2,449.4 L882.2,448.8 L881.8,447.2 L879.7,447.8 L876.9,448.5 L873.6,449.3 L870.0,450.2 L866.1,451.2 L862.3,452.2 L858.7,453.2 L855.6,454.1 L852.6,455.1 L849.6,456.1 L846.6,457.1 L843.7,458.1 L841.1,459.1 L838.8,459.9 L836.8,460.6 L835.3,461.2Z" fill="url(#treeG)"/><circle cx="882.0" cy="448.0" r="0.8" fill="url(#treeG)"/>
<path d="M822.5,564.6 L824.7,563.2 L827.6,561.2 L831.0,558.9 L834.8,556.3 L838.8,553.7 L842.8,551.2 L846.8,549.0 L850.5,547.3 L854.2,545.9 L858.4,544.8 L862.7,543.8 L866.9,543.0 L871.0,542.3 L874.7,541.7 L877.8,541.2 L880.1,540.8 L879.9,539.2 L877.5,539.6 L874.5,539.9 L870.7,540.4 L866.6,540.9 L862.2,541.6 L857.8,542.4 L853.5,543.5 L849.5,544.7 L845.5,546.4 L841.4,548.6 L837.1,551.0 L833.0,553.5 L829.1,555.9 L825.6,558.2 L822.6,560.0 L820.5,561.4Z" fill="url(#treeG)"/><circle cx="880.0" cy="540.0" r="0.8" fill="url(#treeG)"/>
<path d="M798.8,550.4 L801.0,549.1 L804.0,547.2 L807.7,545.0 L811.6,542.6 L815.6,540.1 L819.2,537.9 L822.3,536.0 L824.4,534.7 L823.6,533.3 L821.4,534.5 L818.2,536.2 L814.5,538.2 L810.4,540.4 L806.3,542.7 L802.6,544.7 L799.4,546.4 L797.2,547.6Z" fill="url(#treeG)"/><circle cx="824.0" cy="534.0" r="0.8" fill="url(#treeG)"/>
<path d="M823.2,565.4 L824.6,566.2 L826.5,567.4 L828.8,568.9 L831.4,570.5 L834.2,572.1 L837.2,573.6 L840.2,574.8 L843.2,575.7 L846.4,576.2 L850.0,576.4 L853.8,576.3 L857.5,576.2 L861.1,575.9 L864.3,575.6 L867.0,575.4 L869.0,575.3 L869.0,573.7 L866.9,573.7 L864.2,573.9 L861.0,574.0 L857.4,574.2 L853.7,574.2 L850.1,574.1 L846.7,573.8 L843.8,573.3 L841.1,572.4 L838.3,571.2 L835.6,569.6 L832.9,568.0 L830.4,566.4 L828.2,564.8 L826.3,563.5 L824.8,562.6Z" fill="url(#treeG)"/><circle cx="869.0" cy="574.5" r="0.8" fill="url(#treeG)"/>
<path d="M773.5,559.5 L773.9,560.9 L774.6,562.8 L775.3,565.0 L776.2,567.5 L777.1,570.1 L778.1,572.6 L779.1,574.8 L780.1,576.6 L781.2,578.0 L782.4,579.2 L783.6,580.1 L784.9,580.9 L786.1,581.5 L787.1,581.9 L788.0,582.3 L788.6,582.7 L789.4,581.3 L788.8,580.9 L787.9,580.4 L786.9,579.9 L785.8,579.3 L784.8,578.5 L783.7,577.7 L782.8,576.6 L781.9,575.4 L781.2,573.8 L780.4,571.7 L779.6,569.3 L778.8,566.7 L778.1,564.2 L777.5,561.9 L777.0,559.9 L776.5,558.5Z" fill="url(#treeG)"/><circle cx="789.0" cy="582.0" r="0.8" fill="url(#treeG)"/>
<path d="M755.3,540.0 L755.2,538.3 L755.2,535.9 L755.2,533.1 L755.2,530.0 L755.1,526.8 L755.0,523.5 L754.9,520.4 L754.8,517.5 L754.6,514.9 L754.3,512.3 L753.9,509.8 L753.6,507.4 L753.2,505.0 L753.0,502.7 L752.9,500.4 L753.0,498.1 L753.3,495.7 L753.8,493.1 L754.5,490.3 L755.2,487.6 L756.0,485.1 L756.7,482.7 L757.3,480.8 L757.7,479.3 L755.9,478.7 L755.4,480.2 L754.7,482.1 L753.9,484.4 L753.0,486.9 L752.1,489.7 L751.3,492.5 L750.7,495.2 L750.2,497.9 L750.0,500.4 L750.0,502.9 L750.2,505.3 L750.4,507.8 L750.7,510.2 L750.9,512.7 L751.1,515.2 L751.2,517.7 L751.2,520.5 L751.2,523.5 L751.1,526.8 L751.0,530.0 L750.9,533.1 L750.8,535.9 L750.8,538.2 L750.7,540.0Z" fill="url(#treeG)"/><circle cx="756.8" cy="479.0" r="1.0" fill="url(#treeG)"/>
<path d="M675.0,505.0 L676.8,503.1 L679.2,500.5 L682.1,497.5 L685.2,494.1 L688.6,490.7 L692.0,487.2 L695.3,484.1 L698.4,481.3 L701.4,478.8 L704.6,476.3 L707.9,473.9 L711.2,471.6 L714.4,469.5 L717.6,467.5 L720.6,465.6 L723.3,464.0 L725.9,462.5 L728.5,461.3 L731.0,460.2 L733.4,459.2 L735.6,458.4 L737.6,457.7 L739.2,457.1 L740.6,456.5 L739.4,453.5 L738.1,453.9 L736.5,454.4 L734.5,455.0 L732.1,455.7 L729.6,456.5 L726.9,457.5 L724.1,458.7 L721.3,460.0 L718.3,461.6 L715.1,463.3 L711.8,465.1 L708.3,467.1 L704.8,469.3 L701.3,471.5 L697.8,473.9 L694.4,476.3 L690.9,479.1 L687.3,482.2 L683.6,485.4 L679.9,488.8 L676.5,492.0 L673.5,494.8 L671.0,497.2 L669.0,499.0Z" fill="url(#treeG)"/><circle cx="740.0" cy="455.0" r="1.6" fill="url(#treeG)"/>
<path d="M705.9,543.5 L706.2,541.9 L706.7,539.8 L707.2,537.3 L707.8,534.5 L708.4,531.6 L708.8,528.8 L709.1,526.2 L709.2,524.0 L709.0,522.0 L708.5,520.3 L707.9,518.7 L707.1,517.2 L706.4,516.0 L705.7,514.9 L705.1,514.0 L704.7,513.3 L703.3,514.1 L703.6,514.8 L704.2,515.8 L704.8,516.9 L705.4,518.1 L706.0,519.4 L706.4,520.9 L706.7,522.4 L706.8,524.0 L706.6,525.9 L706.1,528.3 L705.4,531.0 L704.7,533.8 L703.9,536.5 L703.2,538.9 L702.5,541.0 L702.1,542.5Z" fill="url(#treeG)"/><circle cx="704.0" cy="513.7" r="0.8" fill="url(#treeG)"/>
<path d="M826.5,369.6 C830.8,379.1 825.0,388.2 816.5,387.0 C811.2,380.2 816.2,370.6 826.5,369.6Z" fill="#5fc25a" stroke="#3f9c47" stroke-width="0.9"/><path d="M819.6,383.6 L823.5,374.4" stroke="#4aa84c" stroke-width="1.1" stroke-linecap="round"/>
<path d="M849.6,382.4 C848.6,392.7 839.0,397.7 832.2,392.4 C831.0,383.9 840.1,378.1 849.6,382.4Z" fill="#5fc25a" stroke="#3f9c47" stroke-width="0.9"/><path d="M836.5,391.1 L844.6,385.0" stroke="#4aa84c" stroke-width="1.1" stroke-linecap="round"/>
<path d="M864.1,387.4 C864.9,397.7 856.3,404.3 848.7,400.2 C846.1,392.1 854.0,384.8 864.1,387.4Z" fill="#5fc25a" stroke="#3f9c47" stroke-width="0.9"/><path d="M852.7,398.2 L859.6,390.8" stroke="#4aa84c" stroke-width="1.1" stroke-linecap="round"/>
<path d="M786.6,389.0 C795.0,395.0 794.5,405.8 786.6,409.0 C778.7,405.8 778.2,395.0 786.6,389.0Z" fill="#5fc25a" stroke="#3f9c47" stroke-width="0.9"/><path d="M787.6,404.6 L786.4,394.6" stroke="#4aa84c" stroke-width="1.1" stroke-linecap="round"/>
<path d="M824.0,392.6 C824.8,402.9 816.2,409.5 808.6,405.4 C806.0,397.3 813.9,390.0 824.0,392.6Z" fill="#5fc25a" stroke="#3f9c47" stroke-width="0.9"/><path d="M812.6,403.4 L819.5,396.0" stroke="#4aa84c" stroke-width="1.1" stroke-linecap="round"/>
<path d="M855.0,400.7 C859.3,410.2 853.5,419.3 845.0,418.1 C839.7,411.3 844.7,401.7 855.0,400.7Z" fill="#5fc25a" stroke="#3f9c47" stroke-width="0.9"/><path d="M848.1,414.7 L852.0,405.5" stroke="#4aa84c" stroke-width="1.1" stroke-linecap="round"/>
<path d="M771.9,399.6 C781.2,404.0 782.6,414.7 775.3,419.2 C767.0,417.5 764.6,406.9 771.9,399.6Z" fill="#5fc25a" stroke="#3f9c47" stroke-width="0.9"/><path d="M775.5,414.7 L772.6,405.1" stroke="#4aa84c" stroke-width="1.1" stroke-linecap="round"/>
<path d="M828.4,408.6 C835.7,415.9 833.3,426.5 825.0,428.2 C817.7,423.7 819.1,413.0 828.4,408.6Z" fill="#5fc25a" stroke="#3f9c47" stroke-width="0.9"/><path d="M826.7,424.1 L827.2,414.0" stroke="#4aa84c" stroke-width="1.1" stroke-linecap="round"/>
<path d="M879.2,412.9 C885.1,421.4 880.9,431.4 872.4,431.7 C866.0,426.0 869.2,415.7 879.2,412.9Z" fill="#5fc25a" stroke="#3f9c47" stroke-width="0.9"/><path d="M874.8,427.9 L877.1,418.1" stroke="#4aa84c" stroke-width="1.1" stroke-linecap="round"/>
<path d="M785.6,414.7 C795.1,410.4 804.2,416.2 803.0,424.7 C796.2,430.0 786.6,425.0 785.6,414.7Z" fill="#5fc25a" stroke="#3f9c47" stroke-width="0.9"/><path d="M799.6,421.6 L790.4,417.7" stroke="#4aa84c" stroke-width="1.1" stroke-linecap="round"/>
<path d="M893.8,427.8 C898.1,437.3 892.3,446.4 883.8,445.2 C878.5,438.4 883.5,428.8 893.8,427.8Z" fill="#5fc25a" stroke="#3f9c47" stroke-width="0.9"/><path d="M886.9,441.8 L890.8,432.6" stroke="#4aa84c" stroke-width="1.1" stroke-linecap="round"/>
<path d="M854.7,425.4 C864.0,429.8 865.4,440.5 858.1,445.0 C849.8,443.3 847.4,432.7 854.7,425.4Z" fill="#5fc25a" stroke="#3f9c47" stroke-width="0.9"/><path d="M858.3,440.5 L855.4,430.9" stroke="#4aa84c" stroke-width="1.1" stroke-linecap="round"/>
<path d="M736.5,423.8 C746.0,419.5 755.1,425.3 753.9,433.8 C747.1,439.1 737.5,434.1 736.5,423.8Z" fill="#5fc25a" stroke="#3f9c47" stroke-width="0.9"/><path d="M750.5,430.7 L741.3,426.8" stroke="#4aa84c" stroke-width="1.1" stroke-linecap="round"/>
<path d="M788.8,437.0 C797.3,431.1 807.3,435.3 807.6,443.8 C801.9,450.2 791.6,447.0 788.8,437.0Z" fill="#5fc25a" stroke="#3f9c47" stroke-width="0.9"/><path d="M803.8,441.4 L794.0,439.1" stroke="#4aa84c" stroke-width="1.1" stroke-linecap="round"/>
<path d="M857.4,403.3 C860.0,413.4 852.7,421.3 844.6,418.7 C840.5,411.1 847.1,402.5 857.4,403.3Z" fill="#5fc25a" stroke="#3f9c47" stroke-width="0.9"/><path d="M848.2,415.9 L853.6,407.5" stroke="#4aa84c" stroke-width="1.1" stroke-linecap="round"/>
<path d="M867.0,389.6 C866.0,399.9 856.4,404.9 849.6,399.6 C848.4,391.1 857.5,385.3 867.0,389.6Z" fill="#5fc25a" stroke="#3f9c47" stroke-width="0.9"/><path d="M853.9,398.3 L862.0,392.2" stroke="#4aa84c" stroke-width="1.1" stroke-linecap="round"/>
<path d="M898.8,430.2 C899.6,440.5 891.0,447.1 883.4,443.0 C880.8,434.9 888.7,427.6 898.8,430.2Z" fill="#5fc25a" stroke="#3f9c47" stroke-width="0.9"/><path d="M887.4,441.0 L894.3,433.6" stroke="#4aa84c" stroke-width="1.1" stroke-linecap="round"/>
<path d="M776.0,440.3 C780.3,449.8 774.5,458.9 766.0,457.7 C760.7,450.9 765.7,441.3 776.0,440.3Z" fill="#5fc25a" stroke="#3f9c47" stroke-width="0.9"/><path d="M769.1,454.3 L773.0,445.1" stroke="#4aa84c" stroke-width="1.1" stroke-linecap="round"/>
<path d="M533.2,304.1 C541.2,312.2 538.6,323.8 529.4,325.7 C521.4,320.8 522.9,309.0 533.2,304.1Z" fill="url(#treeG)" stroke="url(#edgeG)" stroke-width="0.8"/><path d="M531.3,321.2 L531.9,310.1" stroke="url(#ribG)" stroke-width="1.1" stroke-linecap="round"/>
<path d="M510.4,324.8 C521.6,322.7 529.7,331.3 526.2,340.0 C517.6,343.9 508.7,336.0 510.4,324.8Z" fill="url(#treeG)" stroke="url(#edgeG)" stroke-width="0.8"/><path d="M523.5,335.9 L514.6,329.2" stroke="url(#ribG)" stroke-width="1.1" stroke-linecap="round"/>
<path d="M544.1,326.6 C546.7,336.7 539.4,344.6 531.3,342.0 C527.2,334.4 533.8,325.8 544.1,326.6Z" fill="url(#treeG)" stroke="url(#edgeG)" stroke-width="0.8"/><path d="M534.9,339.2 L540.3,330.8" stroke="url(#ribG)" stroke-width="1.1" stroke-linecap="round"/>
<path d="M554.7,331.0 C558.7,340.6 552.5,349.5 544.1,348.0 C539.1,341.1 544.4,331.6 554.7,331.0Z" fill="url(#treeG)" stroke="url(#edgeG)" stroke-width="0.8"/><path d="M547.3,344.8 L551.5,335.6" stroke="url(#ribG)" stroke-width="1.1" stroke-linecap="round"/>
<path d="M519.7,345.9 C527.9,355.2 524.4,367.7 514.3,369.3 C505.9,363.4 508.2,350.6 519.7,345.9Z" fill="url(#treeG)" stroke="url(#edgeG)" stroke-width="0.8"/><path d="M516.6,364.4 L517.9,352.4" stroke="url(#ribG)" stroke-width="1.1" stroke-linecap="round"/>
<path d="M496.0,366.9 C507.1,364.6 515.4,373.1 512.0,381.9 C503.5,385.9 494.5,378.2 496.0,366.9Z" fill="url(#treeG)" stroke="url(#edgeG)" stroke-width="0.8"/><path d="M509.2,377.8 L500.3,371.3" stroke="url(#ribG)" stroke-width="1.1" stroke-linecap="round"/>
<path d="M531.5,368.3 C533.7,378.4 526.1,386.1 518.1,383.1 C514.4,375.4 521.2,367.1 531.5,368.3Z" fill="url(#treeG)" stroke="url(#edgeG)" stroke-width="0.8"/><path d="M521.8,380.5 L527.6,372.3" stroke="url(#ribG)" stroke-width="1.1" stroke-linecap="round"/>
<path d="M542.9,381.0 C546.0,388.1 541.5,394.8 535.1,393.8 C531.3,388.7 535.1,381.6 542.9,381.0Z" fill="url(#treeG)" stroke="url(#edgeG)" stroke-width="0.8"/><path d="M537.5,391.4 L540.5,384.5" stroke="url(#ribG)" stroke-width="1.1" stroke-linecap="round"/>
<path d="M519.6,394.9 C525.8,391.2 532.6,394.6 532.4,400.5 C528.1,404.7 521.0,402.0 519.6,394.9Z" fill="url(#treeG)" stroke="url(#edgeG)" stroke-width="0.8"/><path d="M529.9,398.7 L523.1,396.6" stroke="url(#ribG)" stroke-width="1.1" stroke-linecap="round"/>
<path d="M564.9,349.8 C566.8,361.0 558.0,369.1 549.3,365.4 C545.6,356.7 553.7,347.9 564.9,349.8Z" fill="url(#treeG)" stroke="url(#edgeG)" stroke-width="0.8"/><path d="M553.5,362.7 L560.3,354.0" stroke="url(#ribG)" stroke-width="1.1" stroke-linecap="round"/>
<path d="M587.2,351.6 C584.4,361.6 574.1,364.8 568.4,358.4 C568.7,349.9 578.7,345.7 587.2,351.6Z" fill="url(#treeG)" stroke="url(#edgeG)" stroke-width="0.8"/><path d="M572.9,357.8 L581.8,353.3" stroke="url(#ribG)" stroke-width="1.1" stroke-linecap="round"/>
<path d="M571.9,361.6 C583.6,365.7 586.6,378.3 578.5,384.6 C568.3,383.6 564.2,371.3 571.9,361.6Z" fill="url(#treeG)" stroke="url(#edgeG)" stroke-width="0.8"/><path d="M578.2,379.2 L573.5,368.1" stroke="url(#ribG)" stroke-width="1.1" stroke-linecap="round"/>
<path d="M581.4,309.7 C591.6,311.6 595.7,321.6 589.8,327.9 C581.3,328.3 576.3,318.7 581.4,309.7Z" fill="url(#treeG)" stroke="url(#edgeG)" stroke-width="0.8"/><path d="M588.9,323.5 L583.5,314.9" stroke="url(#ribG)" stroke-width="1.1" stroke-linecap="round"/>
<path d="M583.6,331.6 C591.1,335.2 592.2,343.8 586.4,347.4 C579.7,346.0 577.8,337.5 583.6,331.6Z" fill="url(#treeG)" stroke="url(#edgeG)" stroke-width="0.8"/><path d="M586.6,343.8 L584.2,336.1" stroke="url(#ribG)" stroke-width="1.1" stroke-linecap="round"/>
<path d="M463.9,388.7 C475.7,395.3 476.5,409.3 466.7,414.5 C456.0,411.5 453.9,397.6 463.9,388.7Z" fill="url(#treeG)" stroke="url(#edgeG)" stroke-width="0.8"/><path d="M467.3,408.7 L464.4,395.9" stroke="url(#ribG)" stroke-width="1.1" stroke-linecap="round"/>
<path d="M431.4,402.7 C443.0,395.9 455.6,402.2 455.2,413.3 C447.2,421.0 434.1,415.9 431.4,402.7Z" fill="url(#treeG)" stroke="url(#edgeG)" stroke-width="0.8"/><path d="M450.5,409.8 L437.9,406.0" stroke="url(#ribG)" stroke-width="1.1" stroke-linecap="round"/>
<path d="M493.7,401.6 C494.5,411.9 485.9,418.5 478.3,414.4 C475.7,406.3 483.6,399.0 493.7,401.6Z" fill="url(#treeG)" stroke="url(#edgeG)" stroke-width="0.8"/><path d="M482.3,412.4 L489.2,405.0" stroke="url(#ribG)" stroke-width="1.1" stroke-linecap="round"/>
<path d="M447.9,420.8 C456.0,414.4 466.2,417.8 467.1,426.4 C461.8,433.1 451.3,430.6 447.9,420.8Z" fill="url(#treeG)" stroke="url(#edgeG)" stroke-width="0.8"/><path d="M463.2,424.2 L453.2,422.6" stroke="url(#ribG)" stroke-width="1.1" stroke-linecap="round"/>
<path d="M441.8,426.0 C451.0,427.3 455.0,436.2 450.0,442.0 C442.3,442.7 437.5,434.2 441.8,426.0Z" fill="url(#treeG)" stroke="url(#edgeG)" stroke-width="0.8"/><path d="M449.0,438.1 L443.9,430.6" stroke="url(#ribG)" stroke-width="1.1" stroke-linecap="round"/>
<path d="M476.0,419.9 C485.5,415.6 494.6,421.4 493.4,429.9 C486.6,435.2 477.0,430.2 476.0,419.9Z" fill="url(#treeG)" stroke="url(#edgeG)" stroke-width="0.8"/><path d="M490.0,426.8 L480.8,422.9" stroke="url(#ribG)" stroke-width="1.1" stroke-linecap="round"/>
<path d="M507.1,408.4 C516.1,413.7 516.5,424.5 508.9,428.4 C500.7,425.9 499.3,415.2 507.1,408.4Z" fill="url(#treeG)" stroke="url(#edgeG)" stroke-width="0.8"/><path d="M509.5,423.9 L507.4,414.0" stroke="url(#ribG)" stroke-width="1.1" stroke-linecap="round"/>
<path d="M576.0,401.7 C583.1,407.8 581.8,417.4 574.4,419.7 C567.6,416.2 568.0,406.5 576.0,401.7Z" fill="url(#treeG)" stroke="url(#edgeG)" stroke-width="0.8"/><path d="M575.7,415.8 L575.3,406.7" stroke="url(#ribG)" stroke-width="1.1" stroke-linecap="round"/>
<path d="M546.0,416.6 C553.7,411.3 562.7,415.1 563.0,422.8 C557.8,428.5 548.5,425.6 546.0,416.6Z" fill="url(#treeG)" stroke="url(#edgeG)" stroke-width="0.8"/><path d="M559.5,420.6 L550.7,418.6" stroke="url(#ribG)" stroke-width="1.1" stroke-linecap="round"/>
<path d="M461.1,435.4 C469.5,439.4 470.8,449.1 464.3,453.2 C456.7,451.6 454.6,442.1 461.1,435.4Z" fill="url(#treeG)" stroke="url(#edgeG)" stroke-width="0.8"/><path d="M464.5,449.1 L461.8,440.4" stroke="url(#ribG)" stroke-width="1.1" stroke-linecap="round"/>
<path d="M424.5,438.7 C433.8,438.0 439.7,445.7 436.1,452.5 C428.8,454.9 422.2,447.7 424.5,438.7Z" fill="url(#treeG)" stroke="url(#edgeG)" stroke-width="0.8"/><path d="M434.2,448.9 L427.6,442.7" stroke="url(#ribG)" stroke-width="1.1" stroke-linecap="round"/>
<path d="M648.9,285.8 C658.8,291.6 659.2,303.5 650.9,307.8 C641.9,305.0 640.3,293.2 648.9,285.8Z" fill="url(#treeG)" stroke="url(#edgeG)" stroke-width="0.8"/><path d="M651.5,302.8 L649.2,292.0" stroke="url(#ribG)" stroke-width="1.1" stroke-linecap="round"/>
<path d="M682.6,290.0 C681.5,301.3 671.0,306.8 663.6,301.0 C662.3,291.7 672.3,285.3 682.6,290.0Z" fill="url(#treeG)" stroke="url(#edgeG)" stroke-width="0.8"/><path d="M668.3,299.5 L677.2,292.8" stroke="url(#ribG)" stroke-width="1.1" stroke-linecap="round"/>
<path d="M675.6,311.4 C668.9,317.9 659.4,315.8 657.8,308.2 C661.9,301.7 671.6,303.0 675.6,311.4Z" fill="url(#treeG)" stroke="url(#edgeG)" stroke-width="0.8"/><path d="M661.6,309.8 L670.6,310.3" stroke="url(#ribG)" stroke-width="1.1" stroke-linecap="round"/>
<path d="M646.3,308.0 C651.0,318.3 644.6,328.3 635.3,327.0 C629.5,319.6 635.0,309.1 646.3,308.0Z" fill="url(#treeG)" stroke="url(#edgeG)" stroke-width="0.8"/><path d="M638.7,323.4 L643.0,313.2" stroke="url(#ribG)" stroke-width="1.1" stroke-linecap="round"/>
<path d="M619.5,320.8 C629.7,319.1 637.0,327.1 633.7,335.0 C625.8,338.3 617.8,331.0 619.5,320.8Z" fill="url(#treeG)" stroke="url(#edgeG)" stroke-width="0.8"/><path d="M631.3,331.2 L623.3,325.0" stroke="url(#ribG)" stroke-width="1.1" stroke-linecap="round"/>
<path d="M615.0,309.7 C616.9,320.9 608.1,329.0 599.4,325.3 C595.7,316.6 603.8,307.8 615.0,309.7Z" fill="url(#treeG)" stroke="url(#edgeG)" stroke-width="0.8"/><path d="M603.6,322.6 L610.4,313.9" stroke="url(#ribG)" stroke-width="1.1" stroke-linecap="round"/>
<path d="M584.4,310.6 C594.4,313.4 597.6,323.7 591.2,329.4 C582.7,329.1 578.5,319.1 584.4,310.6Z" fill="url(#treeG)" stroke="url(#edgeG)" stroke-width="0.8"/><path d="M590.6,324.9 L586.1,316.0" stroke="url(#ribG)" stroke-width="1.1" stroke-linecap="round"/>
<path d="M612.8,329.9 C612.7,340.2 603.6,346.0 596.4,341.3 C594.5,333.0 603.0,326.4 612.8,329.9Z" fill="url(#treeG)" stroke="url(#edgeG)" stroke-width="0.8"/><path d="M600.6,339.6 L608.1,332.9" stroke="url(#ribG)" stroke-width="1.1" stroke-linecap="round"/>
<path d="M604.4,344.9 C610.4,340.8 617.4,343.7 617.6,349.7 C613.6,354.1 606.4,351.9 604.4,344.9Z" fill="url(#treeG)" stroke="url(#edgeG)" stroke-width="0.8"/><path d="M614.9,348.0 L608.0,346.4" stroke="url(#ribG)" stroke-width="1.1" stroke-linecap="round"/>
<path d="M624.0,336.4 C629.9,340.6 629.6,348.2 624.0,350.4 C618.4,348.2 618.1,340.6 624.0,336.4Z" fill="url(#treeG)" stroke="url(#edgeG)" stroke-width="0.8"/><path d="M624.7,347.3 L623.8,340.3" stroke="url(#ribG)" stroke-width="1.1" stroke-linecap="round"/>
<path d="M672.8,318.4 C684.1,319.5 689.6,330.0 683.8,337.4 C674.5,338.7 668.1,328.7 672.8,318.4Z" fill="url(#treeG)" stroke="url(#edgeG)" stroke-width="0.8"/><path d="M682.3,332.7 L675.6,323.8" stroke="url(#ribG)" stroke-width="1.1" stroke-linecap="round"/>
<path d="M698.9,304.6 C705.3,313.9 700.7,324.9 691.3,325.2 C684.3,318.9 687.9,307.6 698.9,304.6Z" fill="url(#treeG)" stroke="url(#edgeG)" stroke-width="0.8"/><path d="M694.0,321.1 L696.5,310.3" stroke="url(#ribG)" stroke-width="1.1" stroke-linecap="round"/>
<path d="M725.3,322.1 C720.4,332.4 708.6,333.9 703.7,325.9 C705.6,316.7 717.2,314.1 725.3,322.1Z" fill="url(#treeG)" stroke="url(#edgeG)" stroke-width="0.8"/><path d="M708.6,326.1 L719.2,322.9" stroke="url(#ribG)" stroke-width="1.1" stroke-linecap="round"/>
<path d="M696.4,331.2 C702.3,335.4 702.0,343.0 696.4,345.2 C690.8,343.0 690.5,335.4 696.4,331.2Z" fill="url(#treeG)" stroke="url(#edgeG)" stroke-width="0.8"/><path d="M697.1,342.1 L696.2,335.1" stroke="url(#ribG)" stroke-width="1.1" stroke-linecap="round"/>
<path d="M664.2,343.5 C674.5,342.7 681.1,351.3 677.0,358.9 C668.9,361.5 661.6,353.6 664.2,343.5Z" fill="url(#treeG)" stroke="url(#edgeG)" stroke-width="0.8"/><path d="M675.0,354.9 L667.6,348.0" stroke="url(#ribG)" stroke-width="1.1" stroke-linecap="round"/>
<path d="M648.9,358.9 C654.0,367.9 649.0,377.5 640.5,377.1 C634.6,370.8 638.7,360.8 648.9,358.9Z" fill="url(#treeG)" stroke="url(#edgeG)" stroke-width="0.8"/><path d="M643.2,373.5 L646.3,363.9" stroke="url(#ribG)" stroke-width="1.1" stroke-linecap="round"/>
<path d="M602.3,378.9 C612.2,373.2 622.8,378.7 622.3,388.1 C615.4,394.6 604.4,390.0 602.3,378.9Z" fill="url(#treeG)" stroke="url(#edgeG)" stroke-width="0.8"/><path d="M618.3,385.1 L607.8,381.7" stroke="url(#ribG)" stroke-width="1.1" stroke-linecap="round"/>
<path d="M689.0,368.9 C699.7,375.2 700.2,388.2 691.0,392.9 C681.2,389.9 679.5,377.0 689.0,368.9Z" fill="url(#treeG)" stroke="url(#edgeG)" stroke-width="0.8"/><path d="M691.8,387.5 L689.2,375.7" stroke="url(#ribG)" stroke-width="1.1" stroke-linecap="round"/>
<path d="M699.7,353.7 C709.0,354.6 713.4,363.2 708.7,369.3 C701.1,370.4 695.8,362.2 699.7,353.7Z" fill="url(#treeG)" stroke="url(#edgeG)" stroke-width="0.8"/><path d="M707.5,365.4 L702.0,358.2" stroke="url(#ribG)" stroke-width="1.1" stroke-linecap="round"/>
<path d="M718.4,335.7 C726.0,341.1 725.5,350.8 718.4,353.7 C711.3,350.8 710.8,341.1 718.4,335.7Z" fill="url(#treeG)" stroke="url(#edgeG)" stroke-width="0.8"/><path d="M719.3,349.7 L718.2,340.7" stroke="url(#ribG)" stroke-width="1.1" stroke-linecap="round"/>
<path d="M730.6,339.2 C740.6,342.0 743.8,352.3 737.4,358.0 C728.9,357.7 724.7,347.7 730.6,339.2Z" fill="url(#treeG)" stroke="url(#edgeG)" stroke-width="0.8"/><path d="M736.8,353.5 L732.3,344.6" stroke="url(#ribG)" stroke-width="1.1" stroke-linecap="round"/>
<path d="M755.4,345.5 C752.9,354.5 743.6,357.4 738.4,351.7 C738.7,344.0 747.7,340.2 755.4,345.5Z" fill="url(#treeG)" stroke="url(#edgeG)" stroke-width="0.8"/><path d="M742.5,351.2 L750.5,347.0" stroke="url(#ribG)" stroke-width="1.1" stroke-linecap="round"/>
<path d="M727.9,359.5 C735.2,366.8 732.8,377.4 724.5,379.1 C717.2,374.6 718.6,363.9 727.9,359.5Z" fill="url(#treeG)" stroke="url(#edgeG)" stroke-width="0.8"/><path d="M726.2,375.0 L726.7,364.9" stroke="url(#ribG)" stroke-width="1.1" stroke-linecap="round"/>
<path d="M753.9,367.4 C755.2,375.6 748.8,381.4 742.5,378.8 C739.9,372.5 745.7,366.1 753.9,367.4Z" fill="url(#treeG)" stroke="url(#edgeG)" stroke-width="0.8"/><path d="M745.6,376.8 L750.5,370.5" stroke="url(#ribG)" stroke-width="1.1" stroke-linecap="round"/>
<path d="M731.4,395.8 C738.0,403.8 734.7,414.1 726.2,415.2 C719.4,410.0 721.7,399.5 731.4,395.8Z" fill="url(#treeG)" stroke="url(#edgeG)" stroke-width="0.8"/><path d="M728.3,411.2 L729.7,401.2" stroke="url(#ribG)" stroke-width="1.1" stroke-linecap="round"/>
<path d="M699.0,408.4 C707.4,414.4 706.9,425.2 699.0,428.4 C691.1,425.2 690.6,414.4 699.0,408.4Z" fill="url(#treeG)" stroke="url(#edgeG)" stroke-width="0.8"/><path d="M700.0,424.0 L698.8,414.0" stroke="url(#ribG)" stroke-width="1.1" stroke-linecap="round"/>
<path d="M589.2,405.8 C599.5,406.8 604.5,416.4 599.2,423.2 C590.7,424.4 584.9,415.3 589.2,405.8Z" fill="url(#treeG)" stroke="url(#edgeG)" stroke-width="0.8"/><path d="M597.9,418.9 L591.8,410.8" stroke="url(#ribG)" stroke-width="1.1" stroke-linecap="round"/>
<path d="M750.2,427.1 C745.8,436.4 735.1,437.8 730.6,430.5 C732.3,422.2 742.9,419.8 750.2,427.1Z" fill="url(#treeG)" stroke="url(#edgeG)" stroke-width="0.8"/><path d="M735.1,430.7 L744.7,427.8" stroke="url(#ribG)" stroke-width="1.1" stroke-linecap="round"/>
<path d="M665.1,426.1 C675.3,428.0 679.4,438.0 673.5,444.3 C665.0,444.7 660.0,435.1 665.1,426.1Z" fill="url(#treeG)" stroke="url(#edgeG)" stroke-width="0.8"/><path d="M672.6,439.9 L667.2,431.3" stroke="url(#ribG)" stroke-width="1.1" stroke-linecap="round"/>
<path d="M587.3,430.0 C594.8,426.6 602.1,431.2 601.1,438.0 C595.7,442.2 588.1,438.2 587.3,430.0Z" fill="url(#treeG)" stroke="url(#edgeG)" stroke-width="0.8"/><path d="M598.5,435.6 L591.1,432.4" stroke="url(#ribG)" stroke-width="1.1" stroke-linecap="round"/>
<path d="M738.2,442.9 C737.4,451.1 729.8,455.1 724.4,450.9 C723.4,444.1 730.7,439.5 738.2,442.9Z" fill="url(#treeG)" stroke="url(#edgeG)" stroke-width="0.8"/><path d="M727.8,449.8 L734.2,445.0" stroke="url(#ribG)" stroke-width="1.1" stroke-linecap="round"/>
<path d="M779.5,314.5 C789.8,319.4 791.3,331.2 783.3,336.1 C774.1,334.2 771.5,322.6 779.5,314.5Z" fill="url(#treeG)" stroke="url(#edgeG)" stroke-width="0.8"/><path d="M783.5,331.2 L780.3,320.6" stroke="url(#ribG)" stroke-width="1.1" stroke-linecap="round"/>
<path d="M756.1,338.9 C757.8,349.1 749.8,356.4 741.9,353.1 C738.6,345.2 745.9,337.2 756.1,338.9Z" fill="url(#treeG)" stroke="url(#edgeG)" stroke-width="0.8"/><path d="M745.7,350.7 L751.9,342.7" stroke="url(#ribG)" stroke-width="1.1" stroke-linecap="round"/>
<path d="M769.3,339.1 C779.6,339.2 785.4,348.3 780.7,355.5 C772.4,357.4 765.8,348.9 769.3,339.1Z" fill="url(#treeG)" stroke="url(#edgeG)" stroke-width="0.8"/><path d="M779.0,351.3 L772.3,343.8" stroke="url(#ribG)" stroke-width="1.1" stroke-linecap="round"/>
<path d="M804.0,336.3 C806.8,347.3 798.8,356.0 789.8,353.1 C785.4,344.8 792.6,335.4 804.0,336.3Z" fill="url(#treeG)" stroke="url(#edgeG)" stroke-width="0.8"/><path d="M793.8,350.1 L799.8,340.8" stroke="url(#ribG)" stroke-width="1.1" stroke-linecap="round"/>
<path d="M759.7,351.5 C768.4,354.8 770.5,364.3 764.3,368.9 C756.7,368.0 753.7,358.7 759.7,351.5Z" fill="url(#treeG)" stroke="url(#edgeG)" stroke-width="0.8"/><path d="M764.2,364.8 L760.8,356.4" stroke="url(#ribG)" stroke-width="1.1" stroke-linecap="round"/>
<path d="M808.8,360.0 C804.9,370.6 793.2,373.2 787.6,365.6 C788.7,356.3 800.0,352.7 808.8,360.0Z" fill="url(#treeG)" stroke="url(#edgeG)" stroke-width="0.8"/><path d="M792.5,365.4 L802.8,361.3" stroke="url(#ribG)" stroke-width="1.1" stroke-linecap="round"/>
<path d="M747.3,371.9 C755.4,367.3 764.1,371.8 763.7,379.5 C758.0,384.8 749.0,381.1 747.3,371.9Z" fill="url(#treeG)" stroke="url(#edgeG)" stroke-width="0.8"/><path d="M760.4,377.0 L751.8,374.2" stroke="url(#ribG)" stroke-width="1.1" stroke-linecap="round"/>
<path d="M794.8,374.1 C804.8,376.9 808.0,387.2 801.6,392.9 C793.1,392.6 788.9,382.6 794.8,374.1Z" fill="url(#treeG)" stroke="url(#edgeG)" stroke-width="0.8"/><path d="M801.0,388.4 L796.5,379.5" stroke="url(#ribG)" stroke-width="1.1" stroke-linecap="round"/>
<path d="M417.8,451.8 C427.3,447.5 436.4,453.3 435.2,461.8 C428.4,467.1 418.8,462.1 417.8,451.8Z" fill="url(#treeG)" stroke="url(#edgeG)" stroke-width="0.8"/><path d="M431.8,458.7 L422.6,454.8" stroke="url(#ribG)" stroke-width="1.1" stroke-linecap="round"/>
<path d="M439.4,456.2 C449.1,459.9 451.4,470.4 444.6,475.6 C436.1,474.5 432.8,464.2 439.4,456.2Z" fill="url(#treeG)" stroke="url(#edgeG)" stroke-width="0.8"/><path d="M444.4,471.1 L440.6,461.7" stroke="url(#ribG)" stroke-width="1.1" stroke-linecap="round"/>
<path d="M427.0,442.1 C434.7,436.8 443.7,440.6 444.0,448.3 C438.8,454.0 429.5,451.1 427.0,442.1Z" fill="url(#treeG)" stroke="url(#edgeG)" stroke-width="0.8"/><path d="M440.5,446.1 L431.7,444.1" stroke="url(#ribG)" stroke-width="1.1" stroke-linecap="round"/>
<path d="M464.0,437.8 C472.4,443.8 471.9,454.6 464.0,457.8 C456.1,454.6 455.6,443.8 464.0,437.8Z" fill="url(#treeG)" stroke="url(#edgeG)" stroke-width="0.8"/><path d="M465.0,453.4 L463.8,443.4" stroke="url(#ribG)" stroke-width="1.1" stroke-linecap="round"/>
<path d="M499.3,443.1 C506.6,450.4 504.2,461.0 495.9,462.7 C488.6,458.2 490.0,447.5 499.3,443.1Z" fill="url(#treeG)" stroke="url(#edgeG)" stroke-width="0.8"/><path d="M497.6,458.6 L498.1,448.5" stroke="url(#ribG)" stroke-width="1.1" stroke-linecap="round"/>
<path d="M508.9,458.7 C518.2,463.1 519.6,473.8 512.3,478.3 C504.0,476.6 501.6,466.0 508.9,458.7Z" fill="url(#treeG)" stroke="url(#edgeG)" stroke-width="0.8"/><path d="M512.5,473.8 L509.6,464.2" stroke="url(#ribG)" stroke-width="1.1" stroke-linecap="round"/>
<path d="M531.7,464.0 C532.4,473.3 524.7,479.2 517.9,475.6 C515.5,468.3 522.7,461.7 531.7,464.0Z" fill="url(#treeG)" stroke="url(#edgeG)" stroke-width="0.8"/><path d="M521.5,473.7 L527.7,467.1" stroke="url(#ribG)" stroke-width="1.1" stroke-linecap="round"/>
<path d="M531.4,448.1 C541.7,449.1 546.7,458.7 541.4,465.5 C532.9,466.7 527.1,457.6 531.4,448.1Z" fill="url(#treeG)" stroke="url(#edgeG)" stroke-width="0.8"/><path d="M540.1,461.2 L534.0,453.1" stroke="url(#ribG)" stroke-width="1.1" stroke-linecap="round"/>
<path d="M554.1,449.6 C563.4,454.0 564.8,464.7 557.5,469.2 C549.2,467.5 546.8,456.9 554.1,449.6Z" fill="url(#treeG)" stroke="url(#edgeG)" stroke-width="0.8"/><path d="M557.7,464.7 L554.8,455.1" stroke="url(#ribG)" stroke-width="1.1" stroke-linecap="round"/>
<path d="M417.8,482.7 C423.8,474.3 434.6,474.8 437.8,482.7 C434.6,490.6 423.8,491.1 417.8,482.7Z" fill="url(#treeG)" stroke="url(#edgeG)" stroke-width="0.8"/><path d="M433.4,481.7 L423.4,482.9" stroke="url(#ribG)" stroke-width="1.1" stroke-linecap="round"/>
<path d="M430.7,488.0 C440.2,483.7 449.3,489.5 448.1,498.0 C441.3,503.3 431.7,498.3 430.7,488.0Z" fill="url(#treeG)" stroke="url(#edgeG)" stroke-width="0.8"/><path d="M444.7,494.9 L435.5,491.0" stroke="url(#ribG)" stroke-width="1.1" stroke-linecap="round"/>
<path d="M480.9,497.0 C490.2,490.6 501.2,495.2 501.5,504.6 C495.2,511.6 483.9,508.0 480.9,497.0Z" fill="url(#treeG)" stroke="url(#edgeG)" stroke-width="0.8"/><path d="M497.4,501.9 L486.6,499.4" stroke="url(#ribG)" stroke-width="1.1" stroke-linecap="round"/>
<path d="M539.6,482.3 C546.9,475.0 557.5,477.4 559.2,485.7 C554.7,493.0 544.0,491.6 539.6,482.3Z" fill="url(#treeG)" stroke="url(#edgeG)" stroke-width="0.8"/><path d="M555.1,484.0 L545.0,483.5" stroke="url(#ribG)" stroke-width="1.1" stroke-linecap="round"/>
<path d="M561.0,502.8 C560.1,512.1 551.5,516.5 545.4,511.8 C544.3,504.2 552.5,498.9 561.0,502.8Z" fill="url(#treeG)" stroke="url(#edgeG)" stroke-width="0.8"/><path d="M549.3,510.6 L556.5,505.1" stroke="url(#ribG)" stroke-width="1.1" stroke-linecap="round"/>
<path d="M438.2,507.3 C448.5,506.5 455.1,515.1 451.0,522.7 C442.9,525.3 435.6,517.4 438.2,507.3Z" fill="url(#treeG)" stroke="url(#edgeG)" stroke-width="0.8"/><path d="M449.0,518.7 L441.6,511.8" stroke="url(#ribG)" stroke-width="1.1" stroke-linecap="round"/>
<path d="M458.0,510.8 C468.0,513.6 471.2,523.9 464.8,529.6 C456.3,529.3 452.1,519.3 458.0,510.8Z" fill="url(#treeG)" stroke="url(#edgeG)" stroke-width="0.8"/><path d="M464.2,525.1 L459.7,516.2" stroke="url(#ribG)" stroke-width="1.1" stroke-linecap="round"/>
<path d="M433.9,531.0 C442.4,525.1 452.4,529.3 452.7,537.8 C447.0,544.2 436.7,541.0 433.9,531.0Z" fill="url(#treeG)" stroke="url(#edgeG)" stroke-width="0.8"/><path d="M448.9,535.4 L439.1,533.1" stroke="url(#ribG)" stroke-width="1.1" stroke-linecap="round"/>
<path d="M469.1,542.7 C480.4,537.5 491.3,544.5 489.9,554.7 C481.8,561.0 470.3,555.1 469.1,542.7Z" fill="url(#treeG)" stroke="url(#edgeG)" stroke-width="0.8"/><path d="M485.9,551.0 L474.8,546.3" stroke="url(#ribG)" stroke-width="1.1" stroke-linecap="round"/>
<path d="M457.9,549.0 C466.9,554.3 467.3,565.1 459.7,569.0 C451.5,566.5 450.1,555.8 457.9,549.0Z" fill="url(#treeG)" stroke="url(#edgeG)" stroke-width="0.8"/><path d="M460.3,564.5 L458.2,554.6" stroke="url(#ribG)" stroke-width="1.1" stroke-linecap="round"/>
<path d="M432.3,550.6 C443.7,549.7 450.9,559.1 446.5,567.4 C437.5,570.3 429.5,561.6 432.3,550.6Z" fill="url(#treeG)" stroke="url(#edgeG)" stroke-width="0.8"/><path d="M444.2,563.0 L436.1,555.5" stroke="url(#ribG)" stroke-width="1.1" stroke-linecap="round"/>
<path d="M440.8,588.4 C438.7,580.4 444.5,574.1 451.0,576.2 C454.3,582.2 449.0,589.1 440.8,588.4Z" fill="url(#treeG)" stroke="url(#edgeG)" stroke-width="0.8"/><path d="M448.2,578.4 L443.8,585.1" stroke="url(#ribG)" stroke-width="1.1" stroke-linecap="round"/>
<path d="M466.5,592.4 C461.8,585.6 465.1,577.6 471.9,577.4 C477.0,582.0 474.4,590.2 466.5,592.4Z" fill="url(#treeG)" stroke="url(#edgeG)" stroke-width="0.8"/><path d="M470.0,580.4 L468.2,588.3" stroke="url(#ribG)" stroke-width="1.1" stroke-linecap="round"/>
<path d="M497.2,567.4 C506.2,565.1 513.4,571.7 511.0,579.0 C504.2,582.6 496.5,576.7 497.2,567.4Z" fill="url(#treeG)" stroke="url(#edgeG)" stroke-width="0.8"/><path d="M508.5,575.8 L500.9,570.8" stroke="url(#ribG)" stroke-width="1.1" stroke-linecap="round"/>
<path d="M524.1,563.5 C529.4,571.2 525.6,580.2 517.9,580.5 C512.2,575.3 515.1,566.0 524.1,563.5Z" fill="url(#treeG)" stroke="url(#edgeG)" stroke-width="0.8"/><path d="M520.1,577.0 L522.1,568.2" stroke="url(#ribG)" stroke-width="1.1" stroke-linecap="round"/>
<path d="M526.0,548.2 C534.2,549.0 538.2,556.6 534.0,562.0 C527.2,563.0 522.6,555.7 526.0,548.2Z" fill="url(#treeG)" stroke="url(#edgeG)" stroke-width="0.8"/><path d="M532.9,558.6 L528.1,552.2" stroke="url(#ribG)" stroke-width="1.1" stroke-linecap="round"/>
<path d="M547.6,548.0 C556.6,545.7 563.8,552.3 561.4,559.6 C554.6,563.2 546.9,557.3 547.6,548.0Z" fill="url(#treeG)" stroke="url(#edgeG)" stroke-width="0.8"/><path d="M558.9,556.4 L551.3,551.4" stroke="url(#ribG)" stroke-width="1.1" stroke-linecap="round"/>
<path d="M563.1,561.5 C570.6,558.1 577.9,562.7 576.9,569.5 C571.5,573.7 563.9,569.7 563.1,561.5Z" fill="url(#treeG)" stroke="url(#edgeG)" stroke-width="0.8"/><path d="M574.3,567.1 L566.9,563.9" stroke="url(#ribG)" stroke-width="1.1" stroke-linecap="round"/>
<path d="M502.4,591.5 C503.2,583.3 510.8,579.3 516.2,583.5 C517.2,590.3 509.9,594.9 502.4,591.5Z" fill="url(#treeG)" stroke="url(#edgeG)" stroke-width="0.8"/><path d="M512.8,584.6 L506.4,589.4" stroke="url(#ribG)" stroke-width="1.1" stroke-linecap="round"/>
<path d="M522.1,592.8 C525.7,585.3 534.3,584.2 537.9,590.0 C536.5,596.7 528.0,598.6 522.1,592.8Z" fill="url(#treeG)" stroke="url(#edgeG)" stroke-width="0.8"/><path d="M534.3,589.8 L526.6,592.2" stroke="url(#ribG)" stroke-width="1.1" stroke-linecap="round"/>
<path d="M542.8,608.3 C537.0,602.4 538.9,593.9 545.6,592.5 C551.4,596.1 550.3,604.7 542.8,608.3Z" fill="url(#treeG)" stroke="url(#edgeG)" stroke-width="0.8"/><path d="M544.2,595.9 L543.8,603.9" stroke="url(#ribG)" stroke-width="1.1" stroke-linecap="round"/>
<path d="M558.8,575.9 C566.8,573.8 573.1,579.6 571.0,586.1 C565.0,589.4 558.1,584.1 558.8,575.9Z" fill="url(#treeG)" stroke="url(#edgeG)" stroke-width="0.8"/><path d="M568.8,583.3 L562.1,578.9" stroke="url(#ribG)" stroke-width="1.1" stroke-linecap="round"/>
<path d="M587.8,577.2 C588.5,585.4 581.6,590.7 575.6,587.4 C573.5,580.9 579.8,575.1 587.8,577.2Z" fill="url(#treeG)" stroke="url(#edgeG)" stroke-width="0.8"/><path d="M578.8,585.8 L584.3,579.9" stroke="url(#ribG)" stroke-width="1.1" stroke-linecap="round"/>
<path d="M571.3,602.7 C566.6,595.9 569.9,587.9 576.7,587.7 C581.8,592.3 579.2,600.5 571.3,602.7Z" fill="url(#treeG)" stroke="url(#edgeG)" stroke-width="0.8"/><path d="M574.8,590.7 L573.0,598.6" stroke="url(#ribG)" stroke-width="1.1" stroke-linecap="round"/>
<path d="M584.3,613.6 C577.6,608.8 578.0,600.2 584.3,597.6 C590.6,600.2 591.0,608.8 584.3,613.6Z" fill="url(#treeG)" stroke="url(#edgeG)" stroke-width="0.8"/><path d="M583.5,601.1 L584.5,609.1" stroke="url(#ribG)" stroke-width="1.1" stroke-linecap="round"/>
<path d="M586.6,450.7 C596.9,451.7 601.9,461.3 596.6,468.1 C588.1,469.3 582.3,460.2 586.6,450.7Z" fill="url(#treeG)" stroke="url(#edgeG)" stroke-width="0.8"/><path d="M595.3,463.8 L589.2,455.7" stroke="url(#ribG)" stroke-width="1.1" stroke-linecap="round"/>
<path d="M614.3,470.8 C621.5,470.3 626.1,476.3 623.3,481.6 C617.6,483.4 612.5,477.8 614.3,470.8Z" fill="url(#treeG)" stroke="url(#edgeG)" stroke-width="0.8"/><path d="M621.9,478.8 L616.7,474.0" stroke="url(#ribG)" stroke-width="1.1" stroke-linecap="round"/>
<path d="M636.6,470.1 C635.9,477.3 629.2,480.8 624.4,477.1 C623.6,471.2 630.0,467.1 636.6,470.1Z" fill="url(#treeG)" stroke="url(#edgeG)" stroke-width="0.8"/><path d="M627.5,476.2 L633.1,471.9" stroke="url(#ribG)" stroke-width="1.1" stroke-linecap="round"/>
<path d="M639.2,488.7 C650.5,489.8 656.0,500.3 650.2,507.7 C640.9,509.0 634.5,499.0 639.2,488.7Z" fill="url(#treeG)" stroke="url(#edgeG)" stroke-width="0.8"/><path d="M648.7,503.0 L642.0,494.1" stroke="url(#ribG)" stroke-width="1.1" stroke-linecap="round"/>
<path d="M627.6,498.4 C636.0,502.4 637.3,512.1 630.8,516.2 C623.2,514.6 621.1,505.1 627.6,498.4Z" fill="url(#treeG)" stroke="url(#edgeG)" stroke-width="0.8"/><path d="M631.0,512.1 L628.3,503.4" stroke="url(#ribG)" stroke-width="1.1" stroke-linecap="round"/>
<path d="M603.8,515.9 C611.1,508.6 621.7,511.0 623.4,519.3 C618.9,526.6 608.2,525.2 603.8,515.9Z" fill="url(#treeG)" stroke="url(#edgeG)" stroke-width="0.8"/><path d="M619.3,517.6 L609.2,517.1" stroke="url(#ribG)" stroke-width="1.1" stroke-linecap="round"/>
<path d="M664.9,435.4 C673.9,437.9 676.8,447.2 671.1,452.4 C663.4,452.1 659.6,443.1 664.9,435.4Z" fill="url(#treeG)" stroke="url(#edgeG)" stroke-width="0.8"/><path d="M670.6,448.3 L666.4,440.3" stroke="url(#ribG)" stroke-width="1.1" stroke-linecap="round"/>
<path d="M737.1,444.5 C739.9,455.5 731.9,464.2 722.9,461.3 C718.5,453.0 725.7,443.6 737.1,444.5Z" fill="url(#treeG)" stroke="url(#edgeG)" stroke-width="0.8"/><path d="M726.9,458.3 L732.9,449.0" stroke="url(#ribG)" stroke-width="1.1" stroke-linecap="round"/>
<path d="M728.9,479.3 C723.6,490.5 710.7,492.2 705.3,483.5 C707.4,473.4 720.1,470.6 728.9,479.3Z" fill="url(#treeG)" stroke="url(#edgeG)" stroke-width="0.8"/><path d="M710.7,483.7 L722.2,480.2" stroke="url(#ribG)" stroke-width="1.1" stroke-linecap="round"/>
<path d="M689.3,500.2 C699.5,498.5 706.8,506.5 703.5,514.4 C695.6,517.7 687.6,510.4 689.3,500.2Z" fill="url(#treeG)" stroke="url(#edgeG)" stroke-width="0.8"/><path d="M701.1,510.6 L693.1,504.4" stroke="url(#ribG)" stroke-width="1.1" stroke-linecap="round"/>
<path d="M723.4,503.4 C727.2,514.1 720.0,523.5 710.8,521.4 C705.7,513.5 712.0,503.5 723.4,503.4Z" fill="url(#treeG)" stroke="url(#edgeG)" stroke-width="0.8"/><path d="M714.5,518.1 L719.7,508.3" stroke="url(#ribG)" stroke-width="1.1" stroke-linecap="round"/>
<path d="M734.4,503.0 C744.4,505.8 747.6,516.1 741.2,521.8 C732.7,521.5 728.5,511.5 734.4,503.0Z" fill="url(#treeG)" stroke="url(#edgeG)" stroke-width="0.8"/><path d="M740.6,517.3 L736.1,508.4" stroke="url(#ribG)" stroke-width="1.1" stroke-linecap="round"/>
<path d="M687.9,519.7 C695.6,514.4 704.6,518.2 704.9,525.9 C699.7,531.6 690.4,528.7 687.9,519.7Z" fill="url(#treeG)" stroke="url(#edgeG)" stroke-width="0.8"/><path d="M701.4,523.7 L692.6,521.7" stroke="url(#ribG)" stroke-width="1.1" stroke-linecap="round"/>
<path d="M728.6,527.7 C724.6,536.1 714.9,537.4 710.8,530.9 C712.4,523.3 721.9,521.2 728.6,527.7Z" fill="url(#treeG)" stroke="url(#edgeG)" stroke-width="0.8"/><path d="M714.9,531.1 L723.6,528.4" stroke="url(#ribG)" stroke-width="1.1" stroke-linecap="round"/>
<path d="M751.9,461.1 C756.2,470.6 750.4,479.7 741.9,478.5 C736.6,471.7 741.6,462.1 751.9,461.1Z" fill="url(#treeG)" stroke="url(#edgeG)" stroke-width="0.8"/><path d="M745.0,475.1 L748.9,465.9" stroke="url(#ribG)" stroke-width="1.1" stroke-linecap="round"/>
<path d="M582.5,590.2 C576.7,584.3 578.6,575.8 585.3,574.4 C591.1,578.0 590.0,586.6 582.5,590.2Z" fill="url(#treeG)" stroke="url(#edgeG)" stroke-width="0.8"/><path d="M583.9,577.8 L583.5,585.8" stroke="url(#ribG)" stroke-width="1.1" stroke-linecap="round"/>
<path d="M803.7,461.2 C800.9,471.2 790.6,474.4 784.9,468.0 C785.2,459.5 795.2,455.3 803.7,461.2Z" fill="url(#treeG)" stroke="url(#edgeG)" stroke-width="0.8"/><path d="M789.4,467.4 L798.3,462.9" stroke="url(#ribG)" stroke-width="1.1" stroke-linecap="round"/>
<path d="M742.6,460.8 C752.9,460.0 759.5,468.6 755.4,476.2 C747.3,478.8 740.0,470.9 742.6,460.8Z" fill="url(#treeG)" stroke="url(#edgeG)" stroke-width="0.8"/><path d="M753.4,472.2 L746.0,465.3" stroke="url(#ribG)" stroke-width="1.1" stroke-linecap="round"/>
<path d="M764.5,475.6 C773.0,471.7 781.2,477.0 780.1,484.6 C774.0,489.3 765.4,484.9 764.5,475.6Z" fill="url(#treeG)" stroke="url(#edgeG)" stroke-width="0.8"/><path d="M777.1,481.8 L768.8,478.3" stroke="url(#ribG)" stroke-width="1.1" stroke-linecap="round"/>
<path d="M783.7,479.0 C792.1,483.0 793.4,492.7 786.9,496.8 C779.3,495.2 777.2,485.7 783.7,479.0Z" fill="url(#treeG)" stroke="url(#edgeG)" stroke-width="0.8"/><path d="M787.1,492.7 L784.4,484.0" stroke="url(#ribG)" stroke-width="1.1" stroke-linecap="round"/>
<path d="M804.1,501.6 C801.6,510.6 792.3,513.5 787.1,507.8 C787.4,500.1 796.4,496.3 804.1,501.6Z" fill="url(#treeG)" stroke="url(#edgeG)" stroke-width="0.8"/><path d="M791.2,507.3 L799.2,503.1" stroke="url(#ribG)" stroke-width="1.1" stroke-linecap="round"/>
<path d="M766.3,494.9 C773.6,502.2 771.2,512.8 762.9,514.5 C755.6,510.0 757.0,499.3 766.3,494.9Z" fill="url(#treeG)" stroke="url(#edgeG)" stroke-width="0.8"/><path d="M764.6,510.4 L765.1,500.3" stroke="url(#ribG)" stroke-width="1.1" stroke-linecap="round"/>
<path d="M815.9,460.0 C825.2,464.4 826.6,475.1 819.3,479.6 C811.0,477.9 808.6,467.3 815.9,460.0Z" fill="url(#treeG)" stroke="url(#edgeG)" stroke-width="0.8"/><path d="M819.5,475.1 L816.6,465.5" stroke="url(#ribG)" stroke-width="1.1" stroke-linecap="round"/>
<path d="M861.8,480.6 C856.5,491.8 843.6,493.5 838.2,484.8 C840.3,474.7 853.0,471.9 861.8,480.6Z" fill="url(#treeG)" stroke="url(#edgeG)" stroke-width="0.8"/><path d="M843.6,485.0 L855.1,481.5" stroke="url(#ribG)" stroke-width="1.1" stroke-linecap="round"/>
<path d="M882.1,453.3 C886.4,462.8 880.6,471.9 872.1,470.7 C866.8,463.9 871.8,454.3 882.1,453.3Z" fill="url(#treeG)" stroke="url(#edgeG)" stroke-width="0.8"/><path d="M875.2,467.3 L879.1,458.1" stroke="url(#ribG)" stroke-width="1.1" stroke-linecap="round"/>
<path d="M900.6,484.8 C891.8,493.5 879.1,490.7 877.0,480.6 C882.4,471.9 895.3,473.6 900.6,484.8Z" fill="url(#treeG)" stroke="url(#edgeG)" stroke-width="0.8"/><path d="M882.0,482.7 L894.1,483.3" stroke="url(#ribG)" stroke-width="1.1" stroke-linecap="round"/>
<path d="M826.3,503.9 C835.6,508.3 837.0,519.0 829.7,523.5 C821.4,521.8 819.0,511.2 826.3,503.9Z" fill="url(#treeG)" stroke="url(#edgeG)" stroke-width="0.8"/><path d="M829.9,519.0 L827.0,509.4" stroke="url(#ribG)" stroke-width="1.1" stroke-linecap="round"/>
<path d="M867.4,499.1 C875.4,507.2 872.8,518.8 863.6,520.7 C855.6,515.8 857.1,504.0 867.4,499.1Z" fill="url(#treeG)" stroke="url(#edgeG)" stroke-width="0.8"/><path d="M865.5,516.2 L866.1,505.1" stroke="url(#ribG)" stroke-width="1.1" stroke-linecap="round"/>
<path d="M886.1,513.8 C892.5,523.1 887.9,534.1 878.5,534.4 C871.5,528.1 875.1,516.8 886.1,513.8Z" fill="url(#treeG)" stroke="url(#edgeG)" stroke-width="0.8"/><path d="M881.2,530.3 L883.7,519.5" stroke="url(#ribG)" stroke-width="1.1" stroke-linecap="round"/>
<path d="M840.3,521.0 C850.6,525.9 852.1,537.7 844.1,542.6 C834.9,540.7 832.3,529.1 840.3,521.0Z" fill="url(#treeG)" stroke="url(#edgeG)" stroke-width="0.8"/><path d="M844.3,537.7 L841.1,527.1" stroke="url(#ribG)" stroke-width="1.1" stroke-linecap="round"/>
<path d="M890.0,547.5 C887.0,558.5 875.7,562.1 869.4,555.1 C869.7,545.7 880.7,541.1 890.0,547.5Z" fill="url(#treeG)" stroke="url(#edgeG)" stroke-width="0.8"/><path d="M874.3,554.4 L884.2,549.4" stroke="url(#ribG)" stroke-width="1.1" stroke-linecap="round"/>
<path d="M855.8,552.5 C859.7,561.0 854.4,569.2 846.8,568.1 C842.1,562.0 846.5,553.4 855.8,552.5Z" fill="url(#treeG)" stroke="url(#edgeG)" stroke-width="0.8"/><path d="M849.6,565.1 L853.1,556.8" stroke="url(#ribG)" stroke-width="1.1" stroke-linecap="round"/>
<path d="M813.8,571.3 C812.9,580.6 804.3,585.0 798.2,580.3 C797.1,572.7 805.3,567.4 813.8,571.3Z" fill="url(#treeG)" stroke="url(#edgeG)" stroke-width="0.8"/><path d="M802.1,579.1 L809.3,573.6" stroke="url(#ribG)" stroke-width="1.1" stroke-linecap="round"/>
<path d="M791.6,596.3 C786.9,589.5 790.2,581.5 797.0,581.3 C802.1,585.9 799.5,594.1 791.6,596.3Z" fill="url(#treeG)" stroke="url(#edgeG)" stroke-width="0.8"/><path d="M795.1,584.3 L793.3,592.2" stroke="url(#ribG)" stroke-width="1.1" stroke-linecap="round"/>
<path d="M845.0,583.7 C847.2,575.8 855.4,573.2 860.0,578.3 C859.8,585.1 851.8,588.4 845.0,583.7Z" fill="url(#treeG)" stroke="url(#edgeG)" stroke-width="0.8"/><path d="M856.4,578.7 L849.3,582.4" stroke="url(#ribG)" stroke-width="1.1" stroke-linecap="round"/>
<path d="M864.2,592.9 C857.5,588.1 857.9,579.5 864.2,576.9 C870.5,579.5 870.9,588.1 864.2,592.9Z" fill="url(#treeG)" stroke="url(#edgeG)" stroke-width="0.8"/><path d="M863.4,580.4 L864.4,588.4" stroke="url(#ribG)" stroke-width="1.1" stroke-linecap="round"/>
<path d="M878.5,598.9 C870.6,596.7 868.0,588.5 873.1,583.9 C879.9,584.1 883.2,592.1 878.5,598.9Z" fill="url(#treeG)" stroke="url(#edgeG)" stroke-width="0.8"/><path d="M873.5,587.5 L877.2,594.6" stroke="url(#ribG)" stroke-width="1.1" stroke-linecap="round"/>
<path d="M891.2,574.2 C887.2,582.6 877.5,583.9 873.4,577.4 C875.0,569.8 884.5,567.7 891.2,574.2Z" fill="url(#treeG)" stroke="url(#edgeG)" stroke-width="0.8"/><path d="M877.5,577.6 L886.2,574.9" stroke="url(#ribG)" stroke-width="1.1" stroke-linecap="round"/>
<path d="M646.5,646 L676.7,646 L677,680 C678,700 683,712 695,720 C705,727 716,730 732,733 C712,739 690,738 672,743 L654,743 C636,738 616,737 598,739 C612,731 630,722 638,712 C645,702 646.5,690 646.5,670 Z" fill="url(#rootG)"/>
<path d="M650.4,704.0 L650.2,704.0 L650.1,704.1 L649.4,704.2 L648.4,704.4 L647.1,704.8 L645.5,705.4 L643.4,706.2 L640.6,707.3 L636.9,709.0 L632.5,711.1 L627.5,713.5 L622.2,716.0 L616.7,718.5 L611.2,720.9 L606.0,723.0 L601.3,724.5 L596.8,725.7 L592.2,726.7 L587.6,727.6 L583.1,728.2 L578.7,728.6 L574.4,728.9 L570.3,729.0 L566.4,729.0 L562.8,728.7 L559.4,728.2 L556.0,727.4 L552.7,726.4 L549.5,725.4 L546.2,724.3 L542.9,723.3 L539.6,722.5 L536.3,721.8 L533.1,721.1 L530.0,720.4 L527.0,719.8 L524.0,719.2 L521.1,718.6 L518.3,718.1 L515.5,717.5 L512.9,717.1 L510.3,716.8 L508.0,716.6 L505.7,716.3 L503.6,716.1 L501.6,715.7 L499.6,715.2 L497.7,714.5 L495.6,713.4 L493.5,712.1 L491.3,710.5 L489.1,708.8 L487.0,707.0 L485.0,705.3 L483.1,703.7 L481.5,702.4 L480.0,701.2 L478.8,700.1 L477.7,699.1 L476.8,698.2 L476.0,697.3 L475.2,696.5 L474.6,695.9 L474.1,695.4 L471.9,697.4 L472.4,698.0 L473.0,698.6 L473.6,699.4 L474.5,700.3 L475.4,701.4 L476.5,702.5 L477.8,703.7 L479.1,705.0 L480.7,706.5 L482.5,708.1 L484.4,709.9 L486.5,711.9 L488.7,713.8 L491.0,715.6 L493.4,717.2 L495.7,718.5 L498.1,719.6 L500.4,720.3 L502.8,720.9 L505.1,721.3 L507.4,721.6 L509.7,721.9 L512.0,722.3 L514.5,722.9 L517.1,723.5 L519.8,724.2 L522.7,724.9 L525.6,725.7 L528.6,726.4 L531.7,727.2 L534.8,728.1 L537.8,728.9 L540.9,729.9 L543.9,731.0 L547.1,732.2 L550.5,733.4 L554.0,734.6 L557.7,735.7 L561.7,736.5 L565.8,737.0 L570.1,737.3 L574.6,737.4 L579.2,737.3 L584.0,737.1 L588.8,736.6 L593.8,736.0 L598.8,735.2 L603.9,734.1 L609.3,732.6 L615.0,730.6 L620.8,728.4 L626.6,726.1 L632.2,723.8 L637.2,721.6 L641.6,719.8 L645.0,718.5 L647.6,717.6 L649.5,717.0 L650.7,716.6 L651.4,716.4 L651.7,716.4 L652.1,716.3 L652.8,716.2 L653.6,716.0Z" fill="url(#rootG)"/><circle cx="473.0" cy="696.4" r="1.5" fill="url(#rootG)"/>
<path d="M497.3,714.7 L494.8,714.0 L491.5,713.0 L487.5,711.7 L483.1,710.4 L478.5,709.1 L473.9,707.9 L469.7,706.8 L465.9,706.1 L462.5,705.7 L459.1,705.6 L455.8,705.6 L452.7,705.8 L449.9,706.0 L447.4,706.2 L445.3,706.4 L443.7,706.5 L443.7,708.3 L445.4,708.3 L447.5,708.2 L450.0,708.0 L452.8,707.9 L455.8,707.9 L459.0,707.9 L462.3,708.2 L465.5,708.7 L469.0,709.5 L473.2,710.6 L477.6,712.0 L482.1,713.5 L486.4,715.0 L490.4,716.3 L493.7,717.5 L496.1,718.3Z" fill="url(#rootG)"/><circle cx="443.7" cy="707.4" r="0.9" fill="url(#rootG)"/>
<path d="M538.9,723.9 L538.9,722.9 L538.9,721.6 L539.0,719.9 L539.1,718.1 L539.1,716.1 L539.0,714.2 L538.8,712.3 L538.3,710.6 L537.5,709.0 L536.5,707.5 L535.3,706.2 L534.1,704.9 L532.9,703.8 L531.8,702.8 L530.9,702.0 L530.3,701.4 L528.9,702.6 L529.6,703.3 L530.4,704.2 L531.4,705.3 L532.5,706.5 L533.5,707.7 L534.5,709.0 L535.2,710.3 L535.7,711.4 L535.9,712.7 L536.0,714.3 L536.0,716.1 L535.8,717.9 L535.6,719.6 L535.4,721.2 L535.2,722.7 L535.1,723.7Z" fill="url(#rootG)"/><circle cx="529.6" cy="702.0" r="0.9" fill="url(#rootG)"/>
<path d="M650.9,725.3 L649.8,726.4 L648.9,727.8 L648.8,728.0 L649.1,727.6 L649.3,727.5 L648.9,727.8 L647.6,728.2 L645.3,728.8 L641.7,729.5 L637.0,730.3 L631.5,731.2 L625.6,732.0 L619.4,732.9 L613.3,733.7 L607.4,734.4 L602.1,735.0 L597.2,735.5 L592.4,735.9 L587.7,736.2 L583.1,736.5 L578.6,736.8 L574.3,737.0 L570.0,737.2 L566.0,737.4 L562.2,737.5 L558.5,737.4 L554.9,737.3 L551.4,737.2 L547.9,737.1 L544.4,737.1 L541.1,737.4 L537.9,737.9 L534.9,738.7 L532.2,739.7 L529.8,740.8 L527.6,742.1 L525.5,743.5 L523.6,745.0 L521.7,746.5 L519.7,748.2 L517.7,750.0 L515.7,751.9 L513.8,754.0 L511.8,756.1 L510.0,758.4 L508.1,760.8 L506.4,763.2 L504.7,765.7 L503.1,768.4 L501.5,771.2 L500.1,774.1 L498.7,777.1 L497.4,780.0 L496.1,782.9 L494.9,785.7 L493.8,788.3 L492.7,790.9 L491.8,793.4 L490.9,795.8 L490.1,798.2 L489.3,800.4 L488.5,802.6 L487.7,804.6 L486.8,806.7 L485.9,808.7 L484.9,810.7 L484.0,812.6 L483.0,814.4 L482.0,816.1 L480.9,817.8 L479.7,819.3 L478.5,820.7 L477.1,822.1 L475.7,823.3 L474.3,824.5 L472.8,825.6 L471.2,826.6 L469.4,827.6 L467.3,828.5 L465.0,829.4 L462.2,830.3 L459.0,831.2 L455.5,832.0 L451.9,832.8 L448.1,833.5 L444.5,834.2 L441.1,834.8 L438.0,835.3 L435.2,835.8 L432.5,836.2 L429.8,836.5 L427.3,836.8 L425.0,837.0 L423.0,837.2 L421.2,837.4 L419.9,837.5 L420.1,840.5 L421.5,840.4 L423.2,840.3 L425.2,840.2 L427.6,840.0 L430.1,839.8 L432.9,839.6 L435.7,839.3 L438.6,838.9 L441.7,838.4 L445.1,838.0 L448.8,837.4 L452.6,836.8 L456.4,836.1 L460.0,835.4 L463.4,834.6 L466.4,833.8 L469.0,832.8 L471.4,831.8 L473.5,830.8 L475.5,829.7 L477.3,828.5 L478.9,827.2 L480.5,825.8 L482.1,824.3 L483.7,822.6 L485.1,820.9 L486.4,819.0 L487.6,817.1 L488.8,815.2 L489.9,813.2 L490.9,811.2 L492.0,809.1 L493.0,807.0 L494.0,804.8 L494.9,802.5 L495.8,800.2 L496.6,797.9 L497.5,795.6 L498.5,793.3 L499.6,790.9 L500.8,788.3 L502.1,785.6 L503.4,782.8 L504.8,780.0 L506.2,777.2 L507.7,774.5 L509.2,772.0 L510.7,769.7 L512.3,767.4 L514.0,765.3 L515.7,763.2 L517.5,761.2 L519.3,759.2 L521.1,757.4 L523.0,755.8 L524.9,754.2 L526.7,752.8 L528.5,751.4 L530.2,750.2 L531.8,749.1 L533.5,748.2 L535.3,747.5 L537.3,746.8 L539.5,746.3 L542.0,746.0 L544.7,745.9 L547.7,745.9 L550.9,746.1 L554.4,746.4 L558.2,746.6 L562.1,746.8 L566.2,746.8 L570.3,746.8 L574.6,746.7 L579.0,746.7 L583.5,746.6 L588.2,746.4 L593.1,746.2 L598.0,746.0 L603.1,745.6 L608.5,745.2 L614.5,744.7 L620.7,744.1 L627.0,743.4 L633.1,742.8 L638.7,742.1 L643.6,741.4 L647.7,740.8 L651.0,740.0 L653.7,739.1 L656.0,738.0 L657.9,736.5 L659.2,734.9 L659.7,733.9 L659.4,734.3 L659.1,734.7Z" fill="url(#rootG)"/><circle cx="420.0" cy="839.0" r="1.5" fill="url(#rootG)"/>
<path d="M529.4,730.5 L526.5,730.8 L522.8,731.2 L518.3,731.7 L513.4,732.3 L508.1,732.9 L502.8,733.5 L497.6,734.1 L492.8,734.6 L488.2,735.1 L483.6,735.7 L478.9,736.3 L474.3,736.8 L469.7,737.4 L465.2,737.9 L460.7,738.4 L456.4,738.8 L451.9,739.2 L447.2,739.5 L442.4,739.9 L437.8,740.2 L433.4,740.4 L429.5,740.7 L426.2,740.9 L423.6,741.0 L423.8,743.2 L426.3,743.1 L429.6,743.0 L433.5,742.8 L437.9,742.7 L442.6,742.5 L447.4,742.3 L452.1,742.1 L456.6,741.8 L461.0,741.5 L465.5,741.1 L470.1,740.7 L474.7,740.3 L479.3,739.9 L484.0,739.4 L488.6,739.0 L493.2,738.6 L498.0,738.2 L503.2,737.7 L508.5,737.3 L513.8,736.8 L518.8,736.4 L523.3,736.0 L527.0,735.7 L529.8,735.5Z" fill="url(#rootG)"/><circle cx="423.7" cy="742.1" r="1.1" fill="url(#rootG)"/>
<path d="M502.7,776.2 L500.6,775.7 L497.6,775.1 L494.1,774.2 L490.1,773.4 L486.0,772.6 L482.0,771.9 L478.2,771.4 L474.8,771.3 L471.9,771.4 L469.1,771.6 L466.4,772.1 L463.8,772.7 L461.4,773.5 L459.2,774.6 L457.2,775.9 L455.4,777.6 L453.9,779.9 L452.8,782.6 L452.0,785.6 L451.3,788.7 L450.9,791.8 L450.5,794.6 L450.2,796.9 L449.9,798.5 L452.1,798.9 L452.4,797.2 L452.8,794.9 L453.3,792.2 L453.9,789.2 L454.6,786.3 L455.4,783.5 L456.5,781.2 L457.6,779.6 L459.1,778.4 L460.7,777.4 L462.6,776.6 L464.7,776.0 L467.0,775.5 L469.5,775.2 L472.1,775.1 L474.8,775.1 L477.8,775.4 L481.3,776.0 L485.2,776.8 L489.1,777.7 L493.0,778.7 L496.5,779.7 L499.5,780.5 L501.7,781.0Z" fill="url(#rootG)"/><circle cx="451.0" cy="798.7" r="1.1" fill="url(#rootG)"/>
<path d="M498.1,795.0 L499.6,795.3 L501.7,795.6 L504.1,795.9 L506.6,796.4 L509.1,796.9 L511.2,797.6 L512.8,798.5 L513.7,799.4 L514.0,800.8 L514.0,803.0 L513.6,805.8 L512.9,808.8 L512.1,811.7 L511.3,814.5 L510.7,816.8 L510.3,818.5 L512.3,819.1 L512.8,817.5 L513.6,815.2 L514.5,812.4 L515.4,809.4 L516.3,806.3 L516.8,803.3 L516.9,800.5 L516.3,798.0 L514.8,796.1 L512.6,794.7 L510.0,793.8 L507.3,793.0 L504.7,792.5 L502.2,792.1 L500.3,791.7 L498.9,791.4Z" fill="url(#rootG)"/><circle cx="511.3" cy="818.8" r="1.1" fill="url(#rootG)"/>
<path d="M478.1,824.9 L477.4,826.3 L476.4,828.2 L475.2,830.5 L473.9,833.1 L472.6,835.8 L471.3,838.6 L470.2,841.3 L469.4,843.9 L468.9,846.5 L468.5,849.2 L468.3,851.9 L468.3,854.6 L468.2,857.1 L468.3,859.3 L468.3,861.1 L468.2,862.5 L470.4,862.7 L470.5,861.2 L470.6,859.4 L470.8,857.2 L471.0,854.7 L471.3,852.2 L471.6,849.6 L472.1,847.1 L472.8,844.9 L473.7,842.7 L474.9,840.2 L476.2,837.7 L477.7,835.1 L479.2,832.7 L480.5,830.6 L481.7,828.7 L482.5,827.3Z" fill="url(#rootG)"/><circle cx="469.3" cy="862.6" r="1.1" fill="url(#rootG)"/>
<path d="M480.0,829.5 L481.2,831.0 L482.8,833.0 L484.7,835.3 L486.8,837.9 L489.0,840.7 L491.2,843.5 L493.2,846.3 L495.0,849.0 L496.6,851.8 L498.2,854.6 L499.8,857.5 L501.3,860.4 L502.7,863.4 L504.0,866.4 L505.2,869.3 L506.2,872.2 L507.1,875.3 L507.8,878.5 L508.4,881.9 L508.9,885.3 L509.3,888.5 L509.7,891.4 L510.0,893.8 L510.2,895.6 L512.4,895.4 L512.2,893.5 L512.0,891.1 L511.7,888.2 L511.5,885.0 L511.1,881.5 L510.6,878.0 L510.0,874.6 L509.2,871.4 L508.2,868.3 L507.1,865.2 L505.9,862.0 L504.5,858.9 L503.1,855.8 L501.6,852.8 L500.0,849.8 L498.4,847.0 L496.7,844.0 L494.7,841.0 L492.6,838.0 L490.5,835.1 L488.5,832.4 L486.6,830.0 L485.1,828.0 L484.0,826.5Z" fill="url(#rootG)"/><circle cx="511.3" cy="895.5" r="1.1" fill="url(#rootG)"/>
<path d="M478.3,822.2 L475.8,821.8 L472.5,821.3 L468.4,820.7 L464.0,820.1 L459.4,819.4 L455.0,818.7 L451.0,818.1 L447.6,817.6 L444.8,817.1 L442.2,816.6 L439.7,816.1 L437.5,815.7 L435.6,815.3 L433.8,814.9 L432.4,814.6 L431.2,814.3 L430.8,816.1 L432.0,816.4 L433.4,816.7 L435.1,817.2 L437.1,817.7 L439.3,818.2 L441.7,818.8 L444.3,819.4 L447.2,820.0 L450.5,820.7 L454.5,821.5 L458.9,822.3 L463.5,823.2 L467.9,824.0 L471.9,824.8 L475.2,825.4 L477.7,825.8Z" fill="url(#rootG)"/><circle cx="431.0" cy="815.2" r="0.9" fill="url(#rootG)"/>
<path d="M572.4,744.8 L572.0,745.9 L571.5,747.4 L570.8,749.2 L570.1,751.3 L569.4,753.6 L568.6,756.1 L567.9,758.7 L567.2,761.6 L566.6,764.6 L566.0,767.9 L565.5,771.5 L564.9,775.1 L564.4,778.8 L563.8,782.4 L563.1,785.9 L562.3,789.0 L561.5,792.1 L560.5,795.1 L559.4,798.1 L558.3,801.0 L557.1,803.8 L556.0,806.4 L554.9,808.7 L553.9,810.8 L552.9,812.6 L552.0,814.1 L551.0,815.4 L550.0,816.5 L549.1,817.5 L548.3,818.4 L547.6,819.1 L547.0,819.8 L548.8,821.4 L549.3,820.8 L550.0,820.1 L550.9,819.3 L551.9,818.3 L553.0,817.1 L554.2,815.7 L555.4,814.1 L556.5,812.2 L557.6,810.1 L558.9,807.7 L560.2,805.2 L561.5,802.4 L562.8,799.5 L564.0,796.4 L565.2,793.3 L566.3,790.2 L567.2,786.9 L568.1,783.3 L568.9,779.7 L569.6,776.0 L570.3,772.3 L571.0,768.9 L571.7,765.7 L572.4,762.8 L573.2,760.3 L574.0,757.8 L574.9,755.5 L575.7,753.3 L576.5,751.3 L577.2,749.6 L577.8,748.1 L578.2,746.8Z" fill="url(#rootG)"/><circle cx="547.9" cy="820.6" r="1.2" fill="url(#rootG)"/>
<path d="M567.9,766.1 L566.3,766.3 L564.0,766.5 L561.2,766.7 L558.2,766.9 L555.1,767.2 L552.2,767.6 L549.6,768.0 L547.6,768.5 L546.0,769.1 L544.8,770.0 L544.0,770.9 L543.3,771.9 L542.9,772.8 L542.7,773.6 L542.5,774.2 L542.2,774.5 L543.8,775.5 L544.1,775.0 L544.4,774.3 L544.7,773.6 L545.0,772.8 L545.5,772.2 L546.1,771.5 L547.0,771.0 L548.2,770.5 L550.0,770.2 L552.5,769.9 L555.3,769.7 L558.3,769.6 L561.3,769.5 L564.1,769.4 L566.4,769.3 L568.1,769.3Z" fill="url(#rootG)"/><circle cx="543.0" cy="775.0" r="0.9" fill="url(#rootG)"/>
<path d="M564.8,786.9 L565.6,787.9 L566.7,789.3 L568.0,790.9 L569.4,792.7 L570.8,794.5 L572.2,796.3 L573.4,798.0 L574.4,799.3 L575.1,800.5 L575.8,801.6 L576.3,802.6 L576.8,803.6 L577.2,804.4 L577.6,805.2 L577.9,805.9 L578.2,806.4 L579.8,805.6 L579.6,805.1 L579.3,804.4 L579.0,803.6 L578.6,802.7 L578.2,801.7 L577.6,800.6 L577.0,799.4 L576.2,798.1 L575.3,796.6 L574.2,794.9 L572.9,793.0 L571.6,791.1 L570.3,789.2 L569.1,787.5 L568.1,786.1 L567.4,785.1Z" fill="url(#rootG)"/><circle cx="579.0" cy="806.0" r="0.9" fill="url(#rootG)"/>
<path d="M641.7,734.4 L640.6,735.9 L639.2,737.9 L637.5,740.3 L635.6,743.0 L633.5,745.9 L631.5,748.9 L629.4,751.9 L627.4,754.9 L625.5,757.9 L623.5,761.1 L621.4,764.3 L619.4,767.7 L617.3,771.0 L615.3,774.4 L613.4,777.8 L611.5,781.1 L609.8,784.5 L608.1,787.9 L606.4,791.3 L604.8,794.7 L603.3,798.0 L601.9,801.2 L600.5,804.3 L599.3,807.2 L598.1,810.0 L597.0,812.8 L596.0,815.5 L595.0,818.1 L594.2,820.5 L593.5,822.6 L592.9,824.3 L592.4,825.7 L594.6,826.5 L595.2,825.2 L595.9,823.5 L596.7,821.4 L597.7,819.1 L598.7,816.6 L599.8,814.0 L601.1,811.3 L602.3,808.6 L603.7,805.8 L605.2,802.8 L606.8,799.7 L608.4,796.5 L610.2,793.2 L612.0,789.9 L613.8,786.6 L615.7,783.5 L617.6,780.3 L619.7,777.1 L621.8,773.9 L624.0,770.7 L626.2,767.5 L628.4,764.4 L630.5,761.3 L632.6,758.5 L634.7,755.6 L636.8,752.8 L639.0,749.9 L641.2,747.1 L643.2,744.6 L645.0,742.3 L646.5,740.3 L647.7,738.8Z" fill="url(#rootG)"/><circle cx="593.5" cy="826.1" r="1.2" fill="url(#rootG)"/>
<path d="M633.7,756.6 L631.2,756.7 L627.8,756.7 L623.8,756.7 L619.3,756.8 L614.7,756.9 L610.2,757.0 L606.1,757.1 L602.6,757.2 L599.5,757.5 L596.6,757.7 L593.9,758.1 L591.4,758.4 L589.2,758.8 L587.2,759.1 L585.6,759.3 L584.3,759.5 L584.5,761.3 L585.8,761.2 L587.5,761.0 L589.5,760.7 L591.7,760.5 L594.1,760.2 L596.8,760.0 L599.7,759.9 L602.6,759.8 L606.1,759.7 L610.2,759.8 L614.7,759.9 L619.3,760.0 L623.7,760.1 L627.8,760.2 L631.2,760.3 L633.7,760.4Z" fill="url(#rootG)"/><circle cx="584.4" cy="760.4" r="0.9" fill="url(#rootG)"/>
<path d="M612.6,783.5 L613.7,784.4 L615.2,785.5 L617.1,786.9 L619.1,788.4 L621.0,789.9 L622.9,791.4 L624.4,792.8 L625.5,793.9 L626.2,794.8 L626.7,795.7 L626.9,796.5 L627.0,797.3 L627.1,798.1 L627.0,798.8 L627.0,799.5 L627.1,800.1 L628.9,799.9 L628.9,799.5 L628.9,798.9 L629.0,798.1 L629.0,797.2 L628.9,796.2 L628.6,795.0 L628.1,793.8 L627.3,792.5 L626.1,791.1 L624.5,789.6 L622.7,788.0 L620.7,786.3 L618.8,784.7 L617.1,783.2 L615.6,782.0 L614.6,781.1Z" fill="url(#rootG)"/><circle cx="628.0" cy="800.0" r="0.9" fill="url(#rootG)"/>
<path d="M652.6,699.6 L652.6,702.8 L652.5,707.3 L652.4,712.6 L652.3,718.3 L652.1,724.3 L652.0,730.0 L651.8,735.1 L651.6,739.3 L651.4,742.2 L651.1,744.3 L650.8,746.0 L650.4,747.8 L650.0,749.9 L649.6,752.5 L649.3,755.7 L649.1,759.6 L649.0,764.4 L649.0,770.1 L649.0,776.4 L649.1,782.9 L649.3,789.5 L649.5,795.7 L649.8,801.4 L650.2,806.2 L650.7,810.2 L651.4,813.6 L652.2,816.5 L653.0,818.9 L653.8,820.8 L654.5,822.3 L654.9,823.6 L655.3,825.1 L655.7,827.0 L656.0,829.1 L656.2,831.3 L656.4,833.5 L656.6,835.6 L656.8,837.5 L656.9,839.1 L657.0,840.4 L669.0,839.6 L668.9,838.4 L668.9,836.8 L668.8,834.9 L668.7,832.7 L668.6,830.3 L668.5,827.8 L668.2,825.3 L667.9,822.7 L667.4,820.2 L666.7,818.0 L666.0,816.1 L665.4,814.4 L664.9,812.7 L664.4,810.8 L664.1,808.4 L663.8,805.2 L663.7,800.9 L663.7,795.5 L663.8,789.4 L663.9,783.0 L664.1,776.6 L664.4,770.4 L664.6,764.9 L664.9,760.4 L665.2,757.1 L665.6,754.8 L665.9,753.1 L666.3,751.5 L666.8,749.7 L667.4,747.3 L667.9,744.3 L668.4,740.7 L668.8,736.2 L669.2,730.9 L669.7,725.1 L670.1,719.2 L670.5,713.3 L670.8,708.0 L671.1,703.6 L671.4,700.4Z" fill="url(#rootG)"/><circle cx="663.0" cy="840.0" r="6.0" fill="url(#rootG)"/>
<path d="M648.0,787.6 L646.2,788.6 L643.8,789.9 L640.8,791.5 L637.6,793.3 L634.3,795.1 L631.0,797.0 L627.9,798.9 L625.2,800.6 L622.9,802.3 L620.8,804.0 L619.0,805.6 L617.2,807.2 L615.6,808.8 L613.9,810.4 L612.2,811.9 L610.3,813.3 L608.1,814.8 L605.7,816.4 L603.1,818.0 L600.5,819.6 L598.0,821.1 L595.7,822.4 L593.8,823.5 L592.4,824.4 L593.6,826.4 L595.0,825.7 L597.0,824.7 L599.3,823.5 L601.9,822.1 L604.6,820.7 L607.4,819.2 L610.0,817.7 L612.3,816.3 L614.4,814.8 L616.4,813.4 L618.2,811.9 L620.0,810.4 L621.8,808.9 L623.6,807.4 L625.6,806.0 L627.8,804.6 L630.4,803.1 L633.5,801.5 L636.8,799.9 L640.2,798.2 L643.5,796.7 L646.4,795.3 L649.0,794.1 L650.8,793.2Z" fill="url(#rootG)"/><circle cx="593.0" cy="825.4" r="1.2" fill="url(#rootG)"/>
<path d="M656.1,825.2 L656.0,827.2 L656.7,829.0 L656.7,828.9 L656.5,827.5 L656.9,826.1 L657.2,825.7 L656.5,826.3 L654.9,827.4 L652.1,829.1 L648.4,831.1 L644.1,833.4 L639.2,835.9 L634.1,838.5 L628.9,841.2 L623.8,843.8 L619.1,846.2 L614.5,848.6 L609.8,850.9 L605.0,853.3 L600.2,855.7 L595.4,858.0 L590.9,860.4 L586.6,862.9 L582.7,865.3 L579.1,867.7 L575.9,870.0 L572.9,872.4 L570.1,874.7 L567.5,877.1 L565.1,879.5 L562.7,882.0 L560.4,884.6 L558.2,887.4 L556.1,890.4 L554.1,893.4 L552.4,896.5 L550.7,899.4 L549.1,902.2 L547.6,904.7 L546.1,906.9 L544.7,908.6 L543.3,910.0 L541.9,911.2 L540.5,912.3 L539.1,913.5 L537.6,915.0 L536.3,916.9 L535.1,919.2 L534.0,922.0 L533.1,925.4 L532.3,929.1 L531.6,932.9 L530.9,936.6 L530.4,939.9 L529.9,942.7 L529.5,944.7 L532.5,945.3 L532.9,943.3 L533.5,940.5 L534.2,937.2 L535.0,933.6 L535.8,929.9 L536.7,926.4 L537.7,923.3 L538.7,920.8 L539.7,919.1 L540.8,917.7 L541.9,916.6 L543.2,915.6 L544.6,914.5 L546.2,913.3 L548.0,911.7 L549.7,909.7 L551.5,907.3 L553.2,904.7 L554.9,901.9 L556.7,899.1 L558.5,896.2 L560.4,893.4 L562.4,890.7 L564.6,888.2 L566.8,885.9 L569.2,883.6 L571.5,881.5 L574.0,879.3 L576.7,877.2 L579.6,875.1 L582.7,873.1 L586.1,870.9 L589.9,868.8 L594.1,866.6 L598.6,864.5 L603.3,862.3 L608.2,860.2 L613.1,858.0 L618.0,855.8 L622.7,853.6 L627.5,851.3 L632.7,848.9 L638.0,846.4 L643.2,844.0 L648.2,841.7 L652.7,839.5 L656.7,837.5 L659.9,835.8 L662.4,834.2 L664.2,832.6 L665.7,830.6 L666.4,827.8 L666.0,825.4 L665.5,824.4 L665.9,825.5 L665.9,826.8Z" fill="url(#rootG)"/><circle cx="531.0" cy="945.0" r="1.5" fill="url(#rootG)"/>
<path d="M581.0,870.0 L578.4,869.5 L574.7,868.9 L570.3,868.2 L565.5,867.4 L560.6,866.6 L555.8,865.9 L551.5,865.4 L548.0,865.1 L545.1,865.0 L542.5,865.2 L540.3,865.5 L538.3,865.9 L536.6,866.3 L535.2,866.7 L534.0,867.0 L533.0,867.2 L533.4,869.0 L534.4,868.8 L535.7,868.5 L537.1,868.2 L538.7,867.8 L540.6,867.6 L542.7,867.4 L545.1,867.3 L547.8,867.5 L551.2,867.9 L555.4,868.6 L560.1,869.5 L564.9,870.5 L569.7,871.4 L574.1,872.4 L577.7,873.1 L580.4,873.6Z" fill="url(#rootG)"/><circle cx="533.2" cy="868.1" r="0.9" fill="url(#rootG)"/>
<path d="M594.2,860.9 L592.0,860.0 L589.0,858.8 L585.3,857.3 L581.3,855.7 L577.2,854.1 L573.2,852.6 L569.5,851.4 L566.4,850.5 L563.7,850.0 L561.3,849.8 L559.0,849.8 L557.0,850.0 L555.2,850.2 L553.7,850.5 L552.4,850.7 L551.4,850.8 L551.6,852.6 L552.6,852.5 L554.0,852.4 L555.5,852.2 L557.2,852.0 L559.1,852.0 L561.1,852.0 L563.4,852.3 L565.8,852.9 L568.7,853.8 L572.2,855.2 L576.1,856.8 L580.1,858.6 L584.0,860.4 L587.6,862.0 L590.6,863.4 L592.8,864.3Z" fill="url(#rootG)"/><circle cx="551.5" cy="851.7" r="0.9" fill="url(#rootG)"/>
<path d="M578.7,869.5 L578.7,871.0 L578.6,873.0 L578.5,875.3 L578.5,878.0 L578.4,880.9 L578.4,883.8 L578.6,886.7 L578.8,889.6 L579.3,892.4 L579.9,895.2 L580.6,898.0 L581.4,900.7 L582.2,903.6 L582.9,906.4 L583.5,909.4 L583.9,912.3 L584.2,915.7 L584.3,919.4 L584.4,923.3 L584.4,927.3 L584.4,931.1 L584.4,934.5 L584.3,937.4 L584.3,939.6 L586.5,939.6 L586.5,937.5 L586.7,934.6 L586.8,931.2 L587.0,927.3 L587.1,923.3 L587.1,919.3 L587.1,915.5 L586.9,912.1 L586.5,908.9 L586.0,905.8 L585.4,902.8 L584.7,899.9 L584.0,897.1 L583.4,894.4 L582.9,891.8 L582.6,889.2 L582.4,886.5 L582.4,883.8 L582.4,880.9 L582.6,878.2 L582.7,875.5 L582.9,873.2 L583.0,871.2 L583.1,869.7Z" fill="url(#rootG)"/><circle cx="585.4" cy="939.6" r="1.1" fill="url(#rootG)"/>
<path d="M582.1,905.9 L582.7,906.5 L583.6,907.3 L584.6,908.2 L585.7,909.3 L586.9,910.3 L587.9,911.3 L588.8,912.1 L589.4,912.6 L590.6,911.4 L590.1,910.8 L589.3,909.9 L588.3,908.9 L587.3,907.7 L586.2,906.6 L585.3,905.6 L584.5,904.7 L583.9,904.1Z" fill="url(#rootG)"/><circle cx="590.0" cy="912.0" r="0.9" fill="url(#rootG)"/>
<path d="M631.8,851.9 L632.1,853.0 L632.5,854.5 L633.0,856.2 L633.5,858.0 L634.0,860.1 L634.4,862.2 L634.7,864.4 L634.9,866.6 L635.1,869.1 L635.2,871.9 L635.3,874.9 L635.3,877.9 L635.2,880.9 L635.0,883.8 L634.5,886.4 L633.9,888.7 L633.1,890.7 L632.0,892.3 L630.7,893.7 L629.2,895.3 L627.6,896.9 L625.8,898.8 L623.9,901.0 L622.1,903.8 L620.3,907.1 L618.2,911.2 L616.1,915.6 L613.9,920.2 L611.9,924.6 L610.0,928.7 L608.5,932.1 L607.3,934.5 L609.3,935.5 L610.5,933.0 L612.2,929.7 L614.1,925.7 L616.3,921.3 L618.6,916.8 L620.9,912.5 L623.0,908.6 L624.9,905.4 L626.6,903.0 L628.3,901.0 L630.0,899.4 L631.7,897.8 L633.3,896.2 L634.9,894.5 L636.3,892.5 L637.5,890.1 L638.3,887.3 L638.9,884.3 L639.3,881.2 L639.5,878.0 L639.6,874.9 L639.6,871.8 L639.5,869.0 L639.5,866.4 L639.3,863.9 L639.0,861.4 L638.6,859.1 L638.1,856.9 L637.7,854.9 L637.2,853.2 L636.9,851.8 L636.6,850.7Z" fill="url(#rootG)"/><circle cx="608.3" cy="935.0" r="1.1" fill="url(#rootG)"/>
<path d="M634.6,890.0 L635.2,890.9 L635.9,892.1 L636.8,893.6 L637.8,895.2 L638.8,896.8 L639.7,898.3 L640.5,899.6 L641.0,900.4 L642.6,899.6 L642.1,898.6 L641.4,897.4 L640.6,895.8 L639.7,894.2 L638.8,892.5 L638.0,891.0 L637.3,889.7 L636.8,888.8Z" fill="url(#rootG)"/><circle cx="641.8" cy="900.0" r="0.9" fill="url(#rootG)"/>
<path d="M658.1,838.8 L658.3,839.8 L658.5,840.8 L658.7,841.6 L659.0,842.7 L659.2,844.0 L659.5,845.8 L659.8,848.3 L660.0,851.4 L660.2,855.6 L660.3,860.8 L660.4,866.7 L660.5,873.0 L660.6,879.5 L660.8,885.9 L661.0,891.9 L661.3,897.1 L661.7,901.7 L662.1,905.9 L662.6,909.7 L663.1,913.4 L663.6,916.8 L664.1,920.3 L664.7,923.9 L665.2,927.6 L665.7,931.8 L666.3,936.4 L666.9,941.1 L667.4,945.8 L668.0,950.2 L668.5,954.2 L668.9,957.6 L669.2,960.1 L672.2,959.9 L672.0,957.3 L671.8,953.9 L671.5,949.9 L671.2,945.4 L670.9,940.7 L670.6,936.0 L670.3,931.4 L670.0,927.2 L669.7,923.3 L669.4,919.7 L669.1,916.2 L668.7,912.7 L668.4,909.1 L668.2,905.4 L668.0,901.3 L667.9,896.9 L667.9,891.7 L668.1,885.9 L668.3,879.6 L668.5,873.1 L668.8,866.8 L669.0,860.8 L669.2,855.5 L669.2,851.2 L669.2,847.7 L669.0,845.0 L668.8,842.7 L668.6,840.9 L668.4,839.5 L668.1,838.5 L668.0,837.8 L667.9,837.2Z" fill="url(#rootG)"/><circle cx="670.7" cy="960.0" r="1.5" fill="url(#rootG)"/>
<path d="M663.6,910.6 L661.8,911.8 L659.4,913.4 L656.5,915.3 L653.3,917.5 L649.9,919.7 L646.7,922.0 L643.6,924.3 L641.0,926.4 L638.6,928.5 L636.3,930.7 L634.0,933.0 L631.9,935.2 L630.0,937.3 L628.4,939.2 L627.0,940.8 L625.9,942.0 L627.1,943.2 L628.3,942.1 L629.8,940.5 L631.5,938.7 L633.5,936.7 L635.7,934.6 L637.9,932.4 L640.3,930.4 L642.6,928.4 L645.3,926.5 L648.3,924.5 L651.7,922.3 L655.0,920.2 L658.3,918.2 L661.3,916.4 L663.8,914.9 L665.6,913.8Z" fill="url(#rootG)"/><circle cx="626.5" cy="942.6" r="0.9" fill="url(#rootG)"/>
<path d="M666.8,936.0 L667.8,937.2 L669.3,939.0 L671.0,941.1 L672.9,943.4 L674.8,945.7 L676.6,947.8 L678.1,949.6 L679.1,950.8 L680.5,949.8 L679.6,948.4 L678.2,946.6 L676.6,944.3 L674.9,941.9 L673.1,939.5 L671.5,937.2 L670.2,935.4 L669.2,934.0Z" fill="url(#rootG)"/><circle cx="679.8" cy="950.3" r="0.9" fill="url(#rootG)"/>
<path d="M663.6,886.2 L664.9,887.2 L666.8,888.6 L669.0,890.2 L671.4,892.0 L673.8,893.7 L676.1,895.4 L677.9,896.7 L679.2,897.7 L680.4,896.3 L679.1,895.2 L677.4,893.8 L675.2,892.0 L673.0,890.0 L670.7,888.1 L668.6,886.3 L666.8,884.8 L665.6,883.8Z" fill="url(#rootG)"/><circle cx="679.8" cy="897.0" r="0.9" fill="url(#rootG)"/>
<path d="M661.7,840.2 L663.0,840.6 L664.8,841.0 L666.7,841.6 L668.9,842.1 L671.1,842.8 L673.4,843.6 L675.6,844.6 L677.7,845.7 L679.8,846.9 L681.9,848.5 L684.1,850.2 L686.4,852.1 L688.9,854.2 L691.5,856.4 L694.4,858.6 L697.5,860.9 L700.9,863.1 L704.4,865.5 L708.2,867.9 L712.1,870.4 L716.0,872.9 L720.0,875.4 L723.9,877.8 L727.7,880.3 L731.6,882.7 L735.5,885.1 L739.5,887.5 L743.4,889.9 L747.2,892.2 L750.9,894.6 L754.3,896.9 L757.6,899.3 L760.6,901.7 L763.4,904.1 L766.1,906.4 L768.7,908.8 L771.1,911.2 L773.4,913.6 L775.5,916.0 L777.4,918.4 L779.2,920.8 L780.8,923.5 L782.3,926.3 L783.6,929.1 L784.8,931.7 L785.9,934.1 L786.8,936.2 L787.5,937.7 L789.7,936.7 L789.0,935.2 L788.2,933.2 L787.3,930.7 L786.1,928.0 L784.9,925.1 L783.4,922.1 L781.8,919.2 L780.0,916.4 L778.1,913.9 L776.0,911.3 L773.8,908.7 L771.4,906.2 L768.8,903.6 L766.1,901.0 L763.3,898.5 L760.2,895.9 L757.0,893.3 L753.5,890.8 L749.8,888.2 L746.1,885.7 L742.2,883.1 L738.4,880.6 L734.6,878.0 L730.9,875.5 L727.1,872.9 L723.3,870.3 L719.4,867.7 L715.6,865.0 L711.8,862.4 L708.2,859.9 L704.8,857.5 L701.7,855.1 L698.9,852.9 L696.2,850.7 L693.8,848.5 L691.4,846.4 L689.1,844.3 L686.7,842.3 L684.4,840.4 L681.9,838.7 L679.2,837.3 L676.6,836.0 L673.9,835.0 L671.4,834.1 L669.1,833.3 L667.1,832.7 L665.5,832.2 L664.3,831.8Z" fill="url(#rootG)"/><circle cx="788.6" cy="937.2" r="1.2" fill="url(#rootG)"/>
<path d="M691.7,854.1 L691.8,856.7 L691.8,860.2 L691.8,864.4 L691.8,869.1 L691.9,874.0 L692.0,878.9 L692.1,883.6 L692.2,887.8 L692.5,892.0 L692.8,896.3 L693.1,900.6 L693.5,904.8 L693.9,908.7 L694.2,912.3 L694.5,915.2 L694.7,917.5 L696.5,917.3 L696.4,915.1 L696.2,912.1 L695.9,908.6 L695.7,904.6 L695.4,900.4 L695.2,896.1 L695.1,891.8 L695.0,887.8 L694.9,883.5 L695.0,878.9 L695.0,874.0 L695.1,869.1 L695.2,864.5 L695.3,860.3 L695.4,856.7 L695.5,854.1Z" fill="url(#rootG)"/><circle cx="695.6" cy="917.4" r="0.9" fill="url(#rootG)"/>
<path d="M727.4,877.9 L727.5,880.3 L727.6,883.5 L727.8,887.3 L727.9,891.5 L728.1,895.8 L728.1,900.1 L728.1,904.0 L728.0,907.4 L727.7,910.4 L727.3,913.4 L726.8,916.3 L726.3,919.0 L725.7,921.5 L725.2,923.7 L724.7,925.6 L724.4,927.1 L726.2,927.5 L726.5,926.1 L727.0,924.2 L727.7,922.0 L728.3,919.5 L729.0,916.7 L729.6,913.8 L730.2,910.7 L730.6,907.6 L730.9,904.1 L731.0,900.1 L731.1,895.8 L731.2,891.4 L731.2,887.2 L731.2,883.4 L731.2,880.2 L731.2,877.9Z" fill="url(#rootG)"/><circle cx="725.3" cy="927.3" r="0.9" fill="url(#rootG)"/>
<path d="M709.5,828.0 L711.1,827.9 L713.2,827.8 L715.8,827.7 L718.6,827.5 L721.5,827.4 L724.3,827.4 L726.9,827.4 L729.2,827.6 L731.2,827.9 L733.2,828.3 L735.2,828.8 L737.1,829.4 L738.9,829.9 L740.4,830.5 L741.8,830.9 L742.8,831.3 L743.4,829.5 L742.4,829.2 L741.1,828.7 L739.5,828.1 L737.8,827.4 L735.8,826.8 L733.8,826.2 L731.6,825.6 L729.4,825.2 L727.0,825.0 L724.3,824.8 L721.4,824.8 L718.5,824.8 L715.7,824.8 L713.2,824.8 L711.0,824.8 L709.5,824.8Z" fill="url(#rootG)"/><circle cx="743.1" cy="830.4" r="0.9" fill="url(#rootG)"/>
<path d="M689.7,823.5 L691.3,823.9 L693.6,824.3 L696.4,824.9 L699.4,825.5 L702.5,826.2 L705.3,826.7 L707.6,827.2 L709.2,827.6 L709.8,825.2 L708.1,824.8 L705.8,824.3 L703.1,823.6 L700.1,822.9 L697.1,822.1 L694.3,821.4 L692.0,820.9 L690.3,820.5Z" fill="url(#rootG)"/><circle cx="709.5" cy="826.4" r="1.2" fill="url(#rootG)"/>
<path d="M664.6,736.0 L664.3,735.7 L663.6,735.1 L664.2,735.8 L665.6,736.8 L667.0,737.5 L668.7,738.2 L671.0,739.0 L673.9,739.8 L677.7,740.8 L682.5,742.1 L688.0,743.5 L694.0,745.0 L700.2,746.6 L706.4,748.1 L712.5,749.5 L718.1,750.8 L723.4,751.9 L728.7,752.9 L733.9,753.8 L739.1,754.7 L744.1,755.5 L748.9,756.3 L753.6,757.0 L758.0,757.8 L762.3,758.5 L766.4,759.3 L770.4,760.0 L774.3,760.6 L777.9,761.3 L781.4,761.9 L784.7,762.4 L787.7,763.0 L790.4,763.6 L792.9,764.2 L795.3,764.9 L797.5,765.5 L799.8,766.1 L802.1,766.6 L804.4,766.8 L806.8,766.6 L809.1,766.1 L811.2,765.3 L813.1,764.3 L814.8,763.1 L816.3,761.8 L817.7,760.4 L819.2,759.0 L820.6,757.4 L822.2,755.7 L823.6,753.8 L825.0,751.8 L826.4,749.8 L827.7,747.6 L829.2,745.5 L830.7,743.3 L832.4,741.1 L834.2,738.7 L836.1,736.1 L838.1,733.4 L840.1,730.7 L842.3,728.1 L844.5,725.6 L846.8,723.3 L849.2,721.4 L852.0,719.6 L855.3,718.0 L858.8,716.5 L862.5,715.1 L866.1,713.9 L869.4,712.8 L872.1,711.9 L874.2,711.1 L873.2,708.3 L871.2,708.9 L868.4,709.7 L865.1,710.6 L861.4,711.7 L857.5,713.0 L853.7,714.4 L850.1,716.0 L846.8,717.8 L843.9,719.9 L841.2,722.3 L838.7,724.9 L836.3,727.6 L834.1,730.3 L832.0,732.9 L830.0,735.4 L828.0,737.7 L826.2,739.9 L824.5,742.1 L822.9,744.3 L821.4,746.3 L820.0,748.3 L818.7,750.0 L817.3,751.6 L816.0,753.0 L814.6,754.3 L813.2,755.6 L811.9,756.7 L810.7,757.7 L809.5,758.4 L808.4,759.0 L807.2,759.3 L806.0,759.6 L804.7,759.6 L803.2,759.4 L801.6,759.0 L799.7,758.4 L797.6,757.6 L795.1,756.8 L792.4,756.0 L789.5,755.2 L786.3,754.5 L783.1,753.7 L779.6,753.0 L775.9,752.2 L772.1,751.3 L768.2,750.5 L764.1,749.5 L759.8,748.6 L755.4,747.6 L750.7,746.6 L745.9,745.6 L741.0,744.6 L736.0,743.5 L730.9,742.3 L725.8,741.1 L720.7,739.8 L715.3,738.4 L709.4,736.7 L703.4,734.9 L697.3,733.1 L691.4,731.3 L686.1,729.7 L681.4,728.2 L677.7,727.0 L675.2,726.1 L673.6,725.5 L672.8,725.2 L672.8,725.1 L673.3,725.5 L673.5,725.7 L672.4,724.7 L671.4,724.0Z" fill="url(#rootG)"/><circle cx="873.7" cy="709.7" r="1.5" fill="url(#rootG)"/>
<path d="M814.6,760.9 L816.4,760.6 L818.8,760.1 L821.5,759.6 L824.6,758.9 L828.0,758.3 L831.4,757.7 L834.9,757.1 L838.3,756.6 L841.9,756.2 L845.9,755.8 L850.2,755.4 L854.5,755.1 L858.6,754.8 L862.4,754.5 L865.5,754.3 L867.9,754.1 L867.7,752.3 L865.4,752.4 L862.3,752.5 L858.5,752.7 L854.4,752.8 L850.0,753.0 L845.7,753.2 L841.6,753.5 L837.9,753.8 L834.5,754.1 L830.9,754.6 L827.4,755.1 L824.0,755.6 L820.9,756.1 L818.1,756.6 L815.8,757.0 L814.0,757.3Z" fill="url(#rootG)"/><circle cx="867.8" cy="753.2" r="0.9" fill="url(#rootG)"/>
<path d="M838.1,729.1 L839.4,729.0 L841.3,728.9 L843.6,728.8 L846.0,728.7 L848.4,728.6 L850.7,728.5 L852.6,728.5 L853.9,728.4 L853.9,726.6 L852.6,726.5 L850.7,726.5 L848.4,726.4 L846.0,726.3 L843.6,726.2 L841.3,726.1 L839.4,726.0 L838.1,725.9Z" fill="url(#rootG)"/><circle cx="853.9" cy="727.5" r="0.9" fill="url(#rootG)"/>
<path d="M823.7,735.6 L824.0,733.7 L824.4,731.0 L824.8,727.8 L825.3,724.2 L825.8,720.7 L826.3,717.3 L826.8,714.3 L827.2,712.0 L827.7,710.2 L828.2,708.9 L828.7,707.8 L829.2,706.9 L829.6,706.2 L830.1,705.6 L830.5,705.0 L830.8,704.5 L829.2,703.5 L829.0,704.0 L828.6,704.5 L828.1,705.1 L827.5,705.9 L826.9,706.8 L826.3,708.1 L825.7,709.6 L825.2,711.4 L824.6,713.8 L824.0,716.8 L823.3,720.3 L822.6,723.8 L822.0,727.3 L821.5,730.5 L821.0,733.2 L820.7,735.2Z" fill="url(#rootG)"/><circle cx="830.0" cy="704.0" r="0.9" fill="url(#rootG)"/>
<path d="M700.4,728.8 L702.7,728.3 L705.8,727.6 L709.5,726.7 L713.7,725.8 L718.0,724.7 L722.2,723.5 L726.2,722.2 L729.8,720.8 L733.1,719.2 L736.4,717.3 L739.6,715.2 L742.6,713.1 L745.4,711.0 L747.9,709.1 L749.9,707.6 L751.5,706.4 L750.5,705.0 L748.8,706.1 L746.7,707.6 L744.2,709.3 L741.4,711.3 L738.3,713.3 L735.1,715.2 L731.9,716.9 L728.8,718.4 L725.4,719.5 L721.4,720.6 L717.2,721.7 L712.9,722.6 L708.8,723.4 L705.1,724.1 L701.9,724.7 L699.6,725.2Z" fill="url(#rootG)"/><circle cx="751.0" cy="705.7" r="0.9" fill="url(#rootG)"/>
<path d="M750.1,731.0 L752.6,729.1 L755.9,726.4 L760.0,723.3 L764.4,719.8 L768.9,716.2 L773.1,712.7 L776.8,709.4 L779.6,706.5 L781.6,703.9 L783.0,701.3 L783.9,698.9 L784.5,696.6 L784.9,694.5 L785.1,692.8 L785.3,691.3 L785.6,690.2 L783.8,689.8 L783.5,691.0 L783.2,692.5 L783.0,694.2 L782.6,696.1 L782.0,698.2 L781.0,700.4 L779.7,702.6 L777.8,704.9 L775.1,707.5 L771.4,710.6 L767.1,713.9 L762.5,717.3 L758.0,720.6 L753.8,723.6 L750.4,726.2 L747.9,728.0Z" fill="url(#rootG)"/><circle cx="784.7" cy="690.0" r="0.9" fill="url(#rootG)"/>
<path d="M778.9,706.9 L780.9,706.6 L783.7,706.1 L787.1,705.5 L790.8,704.8 L794.4,704.2 L797.8,703.6 L800.7,703.0 L802.6,702.7 L802.4,700.9 L800.4,701.2 L797.5,701.6 L794.1,702.1 L790.4,702.7 L786.7,703.2 L783.3,703.7 L780.5,704.2 L778.5,704.5Z" fill="url(#rootG)"/><circle cx="802.5" cy="701.8" r="0.9" fill="url(#rootG)"/>
<path d="M758.8,737.0 L760.3,737.1 L762.4,737.3 L764.8,737.5 L767.5,737.8 L770.3,738.1 L773.2,738.3 L776.0,738.5 L778.6,738.6 L781.3,738.7 L784.1,738.7 L787.0,738.6 L789.8,738.6 L792.5,738.5 L795.0,738.4 L797.0,738.3 L798.5,738.3 L798.5,736.5 L797.0,736.5 L794.9,736.5 L792.5,736.5 L789.8,736.5 L787.0,736.5 L784.1,736.4 L781.3,736.3 L778.8,736.2 L776.2,736.0 L773.4,735.7 L770.6,735.3 L767.8,735.0 L765.1,734.6 L762.7,734.3 L760.7,734.0 L759.2,733.8Z" fill="url(#rootG)"/><circle cx="798.5" cy="737.4" r="0.9" fill="url(#rootG)"/>
<path d="M799.4,770.1 L801.0,771.6 L803.2,773.6 L805.7,775.9 L808.5,778.4 L811.4,781.1 L814.3,783.9 L817.1,786.6 L819.5,789.2 L821.7,791.7 L824.0,794.1 L826.1,796.6 L828.2,799.1 L830.2,801.6 L832.0,804.2 L833.8,807.0 L835.5,809.9 L837.1,813.0 L838.5,816.4 L839.8,820.0 L841.1,823.7 L842.3,827.5 L843.5,831.3 L844.7,835.2 L846.1,838.9 L847.5,842.8 L849.0,847.0 L850.5,851.3 L852.1,855.5 L853.5,859.5 L854.8,863.1 L855.9,866.1 L856.8,868.4 L859.0,867.6 L858.3,865.3 L857.4,862.2 L856.3,858.6 L855.1,854.5 L853.8,850.2 L852.4,845.8 L851.1,841.6 L849.9,837.7 L848.9,833.9 L847.8,830.1 L846.8,826.2 L845.8,822.2 L844.7,818.4 L843.5,814.6 L842.2,810.8 L840.7,807.3 L839.0,804.0 L837.2,800.9 L835.3,797.9 L833.4,795.1 L831.3,792.4 L829.2,789.7 L827.1,787.1 L824.9,784.4 L822.5,781.6 L819.8,778.6 L817.0,775.6 L814.2,772.6 L811.5,769.9 L809.1,767.4 L807.0,765.4 L805.6,763.9Z" fill="url(#rootG)"/><circle cx="857.9" cy="868.0" r="1.2" fill="url(#rootG)"/>
<path d="M833.9,804.6 L835.8,804.7 L838.3,805.0 L841.3,805.2 L844.6,805.5 L848.1,805.8 L851.6,806.0 L854.9,806.2 L857.9,806.2 L860.7,806.1 L863.3,805.7 L865.9,805.3 L868.3,804.8 L870.7,804.4 L873.0,804.0 L875.3,803.8 L877.6,803.9 L880.1,804.2 L882.8,804.8 L885.6,805.6 L888.5,806.5 L891.1,807.4 L893.5,808.3 L895.6,809.0 L897.1,809.5 L897.7,807.7 L896.2,807.2 L894.2,806.5 L891.8,805.5 L889.1,804.5 L886.3,803.6 L883.4,802.7 L880.5,801.9 L877.8,801.5 L875.2,801.4 L872.7,801.5 L870.3,801.7 L867.8,802.1 L865.4,802.5 L862.9,802.9 L860.5,803.1 L857.9,803.2 L855.0,803.1 L851.8,802.8 L848.4,802.5 L844.9,802.1 L841.6,801.7 L838.7,801.4 L836.2,801.0 L834.3,800.8Z" fill="url(#rootG)"/><circle cx="897.4" cy="808.6" r="0.9" fill="url(#rootG)"/>
<path d="M843.5,820.0 L845.2,820.6 L847.6,821.4 L850.4,822.3 L853.6,823.4 L856.8,824.5 L860.0,825.6 L862.9,826.6 L865.4,827.5 L867.6,828.3 L869.7,829.2 L871.7,830.0 L873.7,830.8 L875.4,831.6 L876.9,832.2 L878.2,832.8 L879.2,833.2 L880.0,831.6 L879.0,831.1 L877.7,830.5 L876.2,829.8 L874.5,829.0 L872.6,828.1 L870.6,827.2 L868.4,826.2 L866.2,825.3 L863.7,824.3 L860.8,823.2 L857.7,822.0 L854.5,820.8 L851.4,819.6 L848.6,818.6 L846.3,817.7 L844.5,817.0Z" fill="url(#rootG)"/><circle cx="879.6" cy="832.4" r="0.9" fill="url(#rootG)"/>
<path d="M841.0,847.0 L840.1,847.8 L838.8,848.8 L837.1,850.1 L835.4,851.5 L833.6,853.0 L831.9,854.5 L830.5,856.0 L829.3,857.3 L828.5,858.6 L828.0,860.0 L827.6,861.3 L827.5,862.5 L827.4,863.6 L827.4,864.6 L827.4,865.3 L827.3,865.9 L829.1,866.1 L829.2,865.5 L829.3,864.7 L829.3,863.7 L829.4,862.7 L829.6,861.7 L830.0,860.7 L830.4,859.7 L831.1,858.7 L832.1,857.6 L833.6,856.4 L835.2,855.0 L837.1,853.7 L838.9,852.4 L840.5,851.2 L842.0,850.2 L843.0,849.4Z" fill="url(#rootG)"/><circle cx="828.2" cy="866.0" r="0.9" fill="url(#rootG)"/>
<path d="M722.9,747.6 L722.9,747.8 L722.9,748.0 L722.8,748.6 L722.6,749.6 L722.5,750.9 L722.6,752.3 L722.8,754.0 L723.1,756.0 L723.6,758.3 L724.3,761.0 L725.1,764.0 L726.0,767.3 L726.9,770.6 L727.8,773.9 L728.7,777.0 L729.5,779.9 L730.2,782.4 L730.8,784.9 L731.4,787.4 L732.0,789.9 L732.7,792.4 L733.6,795.0 L734.7,797.7 L736.1,800.3 L737.7,803.0 L739.5,805.5 L741.4,808.0 L743.5,810.4 L745.6,812.9 L747.9,815.4 L750.3,817.9 L752.8,820.5 L755.5,823.3 L758.4,826.3 L761.5,829.4 L764.7,832.5 L767.9,835.6 L771.1,838.6 L774.2,841.4 L777.1,844.0 L780.0,846.3 L782.8,848.4 L785.5,850.3 L788.1,852.1 L790.6,853.8 L792.9,855.5 L795.1,857.3 L797.1,859.3 L798.9,861.5 L800.7,863.8 L802.3,866.3 L803.8,868.8 L805.3,871.3 L806.6,873.8 L807.9,876.3 L809.0,878.6 L810.1,880.8 L811.1,883.0 L812.0,885.3 L812.8,887.5 L813.6,889.5 L814.2,891.3 L814.7,892.9 L815.2,894.1 L817.4,893.3 L817.0,892.1 L816.6,890.6 L816.0,888.7 L815.3,886.6 L814.6,884.3 L813.7,882.0 L812.8,879.6 L811.8,877.2 L810.6,874.9 L809.5,872.4 L808.2,869.8 L806.8,867.1 L805.3,864.4 L803.7,861.8 L801.9,859.2 L799.9,856.7 L797.8,854.4 L795.5,852.4 L793.1,850.5 L790.6,848.6 L788.0,846.7 L785.5,844.8 L782.9,842.7 L780.3,840.4 L777.5,837.8 L774.6,834.9 L771.6,831.9 L768.5,828.7 L765.5,825.5 L762.5,822.4 L759.7,819.3 L757.2,816.5 L754.8,813.8 L752.5,811.2 L750.4,808.7 L748.4,806.3 L746.6,803.9 L744.9,801.6 L743.4,799.3 L742.1,797.1 L741.1,794.8 L740.2,792.6 L739.6,790.4 L739.0,788.2 L738.6,785.8 L738.1,783.3 L737.5,780.7 L736.9,777.9 L736.2,775.0 L735.4,771.9 L734.6,768.6 L733.8,765.3 L733.1,762.1 L732.4,759.1 L731.9,756.5 L731.5,754.4 L731.3,752.9 L731.2,751.8 L731.2,751.1 L731.2,750.6 L731.3,750.3 L731.4,749.8 L731.6,749.1 L731.7,748.4Z" fill="url(#rootG)"/><circle cx="816.3" cy="893.7" r="1.2" fill="url(#rootG)"/>
<path d="M733.8,789.6 L732.6,791.0 L730.9,793.0 L728.8,795.4 L726.6,798.0 L724.3,800.7 L722.1,803.4 L720.1,805.8 L718.5,807.8 L717.1,809.5 L715.8,811.1 L714.6,812.7 L713.6,814.0 L712.7,815.2 L711.9,816.3 L711.2,817.2 L710.7,817.9 L712.1,819.1 L712.7,818.4 L713.4,817.5 L714.3,816.5 L715.2,815.3 L716.3,814.0 L717.5,812.6 L718.9,811.0 L720.3,809.4 L722.1,807.5 L724.2,805.2 L726.6,802.7 L729.0,800.1 L731.3,797.6 L733.5,795.4 L735.3,793.4 L736.6,792.0Z" fill="url(#rootG)"/><circle cx="711.4" cy="818.5" r="0.9" fill="url(#rootG)"/>
<path d="M742.6,792.3 L744.3,792.8 L746.5,793.4 L749.2,794.1 L752.1,794.9 L755.0,795.8 L757.8,796.9 L760.2,798.2 L762.0,799.6 L763.5,801.4 L764.9,803.8 L766.1,806.5 L767.1,809.4 L768.0,812.3 L768.7,814.9 L769.4,817.2 L769.9,818.8 L771.7,818.2 L771.2,816.6 L770.6,814.4 L769.9,811.7 L769.1,808.8 L768.1,805.7 L766.9,802.8 L765.5,800.1 L763.8,797.8 L761.6,796.0 L758.9,794.5 L756.0,793.2 L752.9,792.2 L750.0,791.3 L747.3,790.5 L745.1,789.9 L743.6,789.3Z" fill="url(#rootG)"/><circle cx="770.8" cy="818.5" r="0.9" fill="url(#rootG)"/>
<path d="M778.6,843.8 L780.5,843.9 L783.2,844.0 L786.4,844.1 L789.9,844.3 L793.5,844.5 L796.9,844.7 L799.9,845.0 L802.3,845.3 L804.2,845.6 L805.8,846.1 L807.1,846.6 L808.3,847.1 L809.3,847.6 L810.2,848.1 L810.9,848.5 L811.6,848.8 L812.4,847.2 L811.8,846.9 L811.1,846.5 L810.2,845.9 L809.2,845.4 L807.9,844.7 L806.4,844.1 L804.7,843.6 L802.7,843.1 L800.2,842.7 L797.1,842.3 L793.7,842.0 L790.1,841.6 L786.6,841.3 L783.4,841.0 L780.7,840.8 L778.8,840.6Z" fill="url(#rootG)"/><circle cx="812.0" cy="848.0" r="0.9" fill="url(#rootG)"/>
<path d="M776.5,756.9 L776.5,757.9 L776.4,759.2 L776.2,760.8 L776.1,762.6 L776.1,764.7 L776.1,766.9 L776.4,769.1 L776.8,771.4 L777.5,773.7 L778.3,776.1 L779.2,778.5 L780.3,781.0 L781.4,783.5 L782.7,786.1 L783.9,788.8 L785.2,791.4 L786.6,794.3 L788.2,797.4 L789.9,800.7 L791.6,804.0 L793.4,807.2 L795.0,810.1 L796.4,812.8 L797.6,815.0 L798.5,816.8 L799.3,818.2 L799.9,819.4 L800.4,820.4 L800.8,821.2 L801.1,821.8 L801.4,822.4 L801.7,822.9 L803.3,822.1 L803.1,821.6 L802.8,821.0 L802.5,820.4 L802.1,819.6 L801.6,818.6 L801.0,817.3 L800.3,815.8 L799.4,814.0 L798.3,811.8 L797.0,809.1 L795.5,806.0 L793.9,802.8 L792.3,799.5 L790.8,796.2 L789.3,793.0 L788.0,790.2 L786.8,787.4 L785.7,784.8 L784.6,782.2 L783.5,779.6 L782.6,777.2 L781.8,774.8 L781.1,772.6 L780.6,770.6 L780.3,768.6 L780.2,766.7 L780.2,764.7 L780.3,762.9 L780.5,761.2 L780.6,759.6 L780.8,758.2 L780.9,757.1Z" fill="url(#rootG)"/><circle cx="802.5" cy="822.5" r="0.9" fill="url(#rootG)"/>
<path d="M684.2,745.6 L684.6,747.3 L685.1,749.6 L685.8,752.4 L686.5,755.4 L687.2,758.4 L687.9,761.2 L688.4,763.5 L688.8,765.2 L690.6,764.8 L690.3,763.2 L689.9,760.8 L689.4,758.0 L688.9,754.9 L688.4,751.8 L687.9,749.0 L687.5,746.7 L687.2,745.0Z" fill="url(#rootG)"/><circle cx="689.7" cy="765.0" r="0.9" fill="url(#rootG)"/>
<path d="M673.0,776.6 L674.6,777.5 L676.8,778.7 L679.4,780.0 L682.2,781.6 L685.1,783.2 L688.0,784.8 L690.6,786.4 L692.8,787.9 L694.7,789.3 L696.6,790.9 L698.4,792.6 L700.0,794.2 L701.5,795.8 L702.8,797.2 L703.9,798.4 L704.8,799.3 L706.2,798.1 L705.3,797.2 L704.3,795.9 L703.0,794.4 L701.6,792.8 L700.0,791.0 L698.2,789.2 L696.4,787.4 L694.4,785.7 L692.1,784.1 L689.5,782.3 L686.7,780.5 L683.8,778.8 L681.0,777.1 L678.5,775.6 L676.4,774.3 L674.8,773.4Z" fill="url(#rootG)"/><circle cx="705.5" cy="798.7" r="0.9" fill="url(#rootG)"/>
<ellipse cx="426.4" cy="155.3" rx="99" ry="62" fill="url(#eBrown)"/>
<text x="428" y="129.7" font-size="20.5" fill="#fdf6dc" text-anchor="middle" textLength="100" lengthAdjust="spacingAndGlyphs">Attention,</text>
<text x="428" y="155" font-size="20.5" fill="#fdf6dc" text-anchor="middle" textLength="135" lengthAdjust="spacingAndGlyphs">Appreciation,</text>
<text x="428" y="181.2" font-size="20.5" fill="#fdf6dc" text-anchor="middle" textLength="153.5" lengthAdjust="spacingAndGlyphs">&amp; Being Valued</text>
<ellipse cx="884" cy="157" rx="99" ry="62" fill="url(#eGreen)"/>
<text x="886.3" y="135.2" font-size="20.5" fill="#fdf6dc" text-anchor="middle" textLength="74" lengthAdjust="spacingAndGlyphs">People,</text>
<text x="886.3" y="160.5" font-size="20.5" fill="#fdf6dc" text-anchor="middle" textLength="107" lengthAdjust="spacingAndGlyphs">Purpose, &amp;</text>
<text x="886.3" y="186.1" font-size="20.5" fill="#fdf6dc" text-anchor="middle" textLength="134" lengthAdjust="spacingAndGlyphs">Appreciation,</text>
<ellipse cx="212.5" cy="450.2" rx="99" ry="62" fill="url(#eOrange)"/>
<text x="212.7" y="427.6" font-size="20.5" fill="#fdf6dc" text-anchor="middle" textLength="69" lengthAdjust="spacingAndGlyphs">Power,</text>
<text x="212.7" y="453.4" font-size="20.5" fill="#fdf6dc" text-anchor="middle" textLength="123" lengthAdjust="spacingAndGlyphs">Recognition,</text>
<text x="212.7" y="478.7" font-size="20.5" fill="#fdf6dc" text-anchor="middle" textLength="115" lengthAdjust="spacingAndGlyphs">&amp; Influence</text>
<ellipse cx="1120.1" cy="451.8" rx="99" ry="62" fill="url(#eDGreen)"/>
<text x="1124" y="433.2" font-size="20.5" fill="#f2f8e2" text-anchor="middle" textLength="156" lengthAdjust="spacingAndGlyphs">Desire to Focus</text>
<text x="1124" y="459" font-size="20.5" fill="#f2f8e2" text-anchor="middle" textLength="112" lengthAdjust="spacingAndGlyphs">On &amp; Solve</text>
<text x="1124" y="484" font-size="20.5" fill="#f2f8e2" text-anchor="middle" textLength="130" lengthAdjust="spacingAndGlyphs">Big Problems</text>
<ellipse cx="204.7" cy="834.6" rx="99" ry="62" fill="url(#eRed)"/>
<text x="206.7" y="812.6" font-size="20.5" fill="#fdf6dc" text-anchor="middle" textLength="70" lengthAdjust="spacingAndGlyphs">Power,</text>
<text x="206.7" y="838.4" font-size="20.5" fill="#fdf6dc" text-anchor="middle" textLength="123" lengthAdjust="spacingAndGlyphs">Recognition,</text>
<text x="206.7" y="863.4" font-size="20.5" fill="#fdf6dc" text-anchor="middle" textLength="115" lengthAdjust="spacingAndGlyphs">&amp; Influence</text>
<ellipse cx="1123.5" cy="835.7" rx="99" ry="62" fill="url(#eTeal)"/>
<text x="1123.7" y="820.6" font-size="20.5" fill="#eefaf0" text-anchor="middle" textLength="156.4" lengthAdjust="spacingAndGlyphs">Desire to Focus</text>
<text x="1123.7" y="845.6" font-size="20.5" fill="#eefaf0" text-anchor="middle" textLength="112" lengthAdjust="spacingAndGlyphs">On &amp; Solve</text>
<text x="1123.7" y="871.5" font-size="20.5" fill="#eefaf0" text-anchor="middle" textLength="130" lengthAdjust="spacingAndGlyphs">Big Problems</text>
<ellipse cx="438.5" cy="1142.6" rx="99" ry="62" fill="url(#eMag)"/>
<text x="436.3" y="1122.9" font-size="20.5" fill="#fbeefc" text-anchor="middle" textLength="80.6" lengthAdjust="spacingAndGlyphs">Control,</text>
<text x="436.3" y="1149" font-size="20.5" fill="#fbeefc" text-anchor="middle" textLength="79" lengthAdjust="spacingAndGlyphs">Rules, &amp;</text>
<text x="436.3" y="1174.8" font-size="20.5" fill="#fbeefc" text-anchor="middle" textLength="96.8" lengthAdjust="spacingAndGlyphs">Efficiency</text>
<ellipse cx="881.7" cy="1142" rx="99" ry="62" fill="url(#ePurp)"/>
<text x="879.3" y="1119" font-size="20.5" fill="#f4eefc" text-anchor="middle" textLength="64.5" lengthAdjust="spacingAndGlyphs">Order,</text>
<text x="879.3" y="1144.8" font-size="20.5" fill="#f4eefc" text-anchor="middle" textLength="117.3" lengthAdjust="spacingAndGlyphs">Precision, &amp;</text>
<text x="879.3" y="1170.6" font-size="20.5" fill="#f4eefc" text-anchor="middle" textLength="131.5" lengthAdjust="spacingAndGlyphs">Effectiveness</text>
<circle cx="63.2" cy="667.5" r="1.4" fill="#e04048"/><circle cx="884.9" cy="307.2" r="1" fill="#7a4a40"/>
<text x="367.5" y="336.1" font-size="29" font-weight="bold" fill="#fffdf0" text-anchor="middle" textLength="191" lengthAdjust="spacingAndGlyphs">Inspirational,</text>
<text x="366.6" y="371.3" font-size="29" font-weight="bold" fill="#fffdf0" text-anchor="middle" textLength="215.6" lengthAdjust="spacingAndGlyphs">Entertainment,</text>
<text x="366.5" y="406.5" font-size="29" font-weight="bold" fill="#fffdf0" text-anchor="middle" textLength="50" lengthAdjust="spacingAndGlyphs">Fun</text>
<text x="658.4" y="191.7" font-size="29" font-weight="bold" fill="#fffdf0" text-anchor="middle" textLength="139" lengthAdjust="spacingAndGlyphs">Inclusion,</text>
<text x="657.8" y="226.6" font-size="29" font-weight="bold" fill="#fffdf0" text-anchor="middle" textLength="115" lengthAdjust="spacingAndGlyphs">Service,</text>
<text x="658" y="262.9" font-size="29" font-weight="bold" fill="#fffdf0" text-anchor="middle" textLength="96" lengthAdjust="spacingAndGlyphs">Caring</text>
<text x="951.5" y="339.6" font-size="29" font-weight="bold" fill="#fffdf0" text-anchor="middle" textLength="165" lengthAdjust="spacingAndGlyphs">Innovation,</text>
<text x="951.5" y="375.5" font-size="29" font-weight="bold" fill="#fffdf0" text-anchor="middle" textLength="168" lengthAdjust="spacingAndGlyphs">Big Picture,</text>
<text x="942.7" y="410" font-size="29" font-weight="bold" fill="#fffdf0" text-anchor="middle" textLength="124" lengthAdjust="spacingAndGlyphs">Purpose,</text>
<text x="942.7" y="450.3" font-size="29" font-weight="bold" fill="#fffdf0" text-anchor="middle" textLength="86" lengthAdjust="spacingAndGlyphs">Ideals</text>
<text x="372.3" y="915.7" font-size="29" font-weight="bold" fill="#fffdf0" text-anchor="middle" textLength="219" lengthAdjust="spacingAndGlyphs">Taking Charge,</text>
<text x="372.3" y="951.5" font-size="29" font-weight="bold" fill="#fffdf0" text-anchor="middle" textLength="168" lengthAdjust="spacingAndGlyphs">Competing,</text>
<text x="372.3" y="987.2" font-size="29" font-weight="bold" fill="#fffdf0" text-anchor="middle" textLength="122" lengthAdjust="spacingAndGlyphs">Winning</text>
<text x="663" y="1036.3" font-size="29" font-weight="bold" fill="#fffdf0" text-anchor="middle" textLength="155" lengthAdjust="spacingAndGlyphs">Execution,</text>
<text x="663" y="1072.5" font-size="29" font-weight="bold" fill="#fffdf0" text-anchor="middle" textLength="197" lengthAdjust="spacingAndGlyphs">Management,</text>
<text x="662" y="1107.9" font-size="29" font-weight="bold" fill="#fffdf0" text-anchor="middle" textLength="187" lengthAdjust="spacingAndGlyphs">Organization</text>
<text x="962.6" y="915.4" font-size="29" font-weight="bold" fill="#fffdf0" text-anchor="middle" textLength="203" lengthAdjust="spacingAndGlyphs">The Ability to</text>
<text x="962.5" y="951.7" font-size="29" font-weight="bold" fill="#fffdf0" text-anchor="middle" textLength="174.5" lengthAdjust="spacingAndGlyphs">See &amp; Solve</text>
<text x="963" y="987.1" font-size="29" font-weight="bold" fill="#fffdf0" text-anchor="middle" textLength="135" lengthAdjust="spacingAndGlyphs">Problems</text>
</svg></body></html>
